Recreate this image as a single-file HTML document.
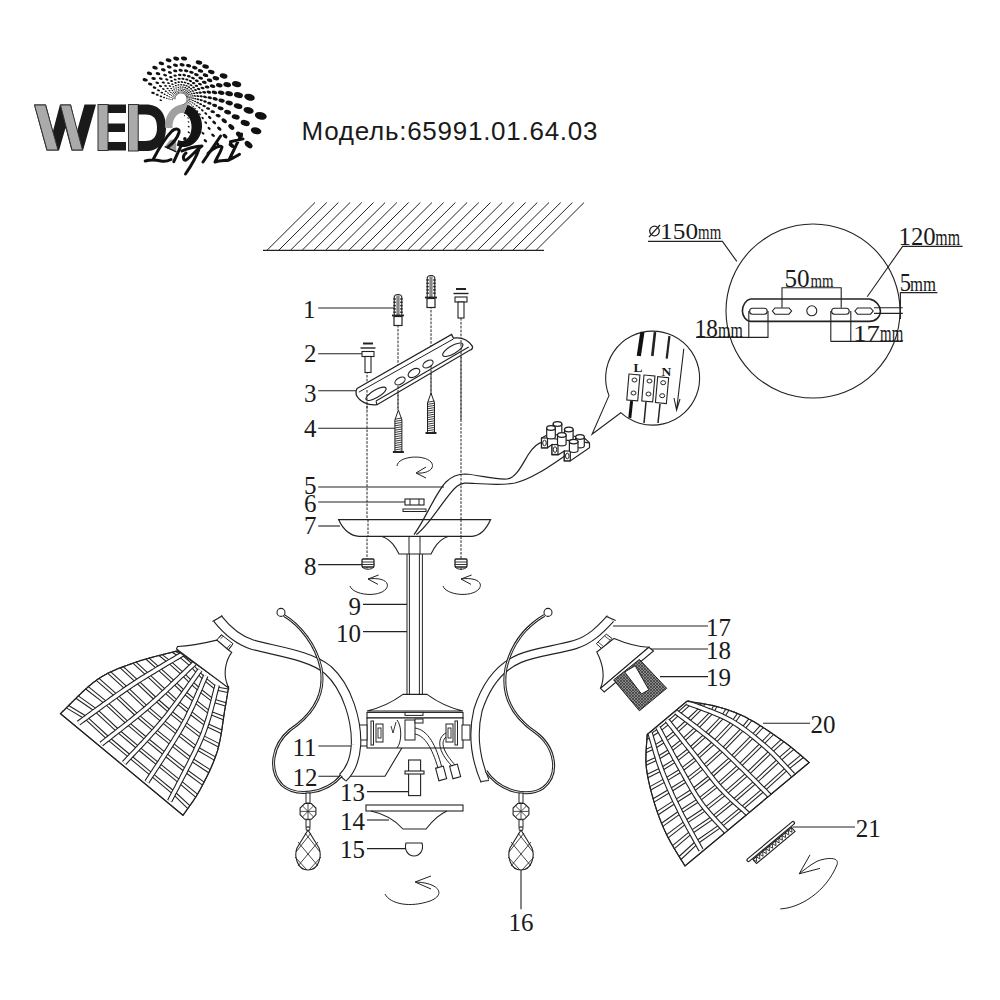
<!DOCTYPE html>
<html><head><meta charset="utf-8"><style>
html,body{margin:0;padding:0;background:#fff;width:1000px;height:1000px;overflow:hidden}
svg{display:block}
</style></head><body>
<svg width="1000" height="1000" viewBox="0 0 1000 1000">
<rect width="1000" height="1000" fill="#fff"/>
<ellipse cx="160.8" cy="100.2" rx="1.30" ry="0.80" transform="rotate(14 160.8 100.2)" fill="#111"/>
<ellipse cx="172.5" cy="99.7" rx="0.59" ry="0.45" transform="rotate(14 172.5 99.7)" fill="#111"/>
<ellipse cx="170.9" cy="99.4" rx="0.69" ry="0.45" transform="rotate(14 170.9 99.4)" fill="#111"/>
<ellipse cx="169.0" cy="99.0" rx="0.81" ry="0.50" transform="rotate(14 169.0 99.0)" fill="#111"/>
<ellipse cx="166.7" cy="98.3" rx="0.95" ry="0.59" transform="rotate(14 166.7 98.3)" fill="#111"/>
<ellipse cx="164.0" cy="97.5" rx="1.12" ry="0.69" transform="rotate(14 164.0 97.5)" fill="#111"/>
<ellipse cx="160.9" cy="96.4" rx="1.32" ry="0.82" transform="rotate(14 160.9 96.4)" fill="#111"/>
<ellipse cx="157.2" cy="94.8" rx="1.57" ry="0.97" transform="rotate(14 157.2 94.8)" fill="#111"/>
<ellipse cx="153.0" cy="92.9" rx="1.86" ry="1.15" transform="rotate(14 153.0 92.9)" fill="#111"/>
<ellipse cx="175.0" cy="98.8" rx="0.50" ry="0.45" transform="rotate(14 175.0 98.8)" fill="#111"/>
<ellipse cx="173.9" cy="98.5" rx="0.51" ry="0.45" transform="rotate(14 173.9 98.5)" fill="#111"/>
<ellipse cx="172.6" cy="98.1" rx="0.60" ry="0.45" transform="rotate(14 172.6 98.1)" fill="#111"/>
<ellipse cx="171.0" cy="97.5" rx="0.70" ry="0.45" transform="rotate(14 171.0 97.5)" fill="#111"/>
<ellipse cx="169.2" cy="96.7" rx="0.82" ry="0.51" transform="rotate(14 169.2 96.7)" fill="#111"/>
<ellipse cx="167.1" cy="95.6" rx="0.97" ry="0.60" transform="rotate(14 167.1 95.6)" fill="#111"/>
<ellipse cx="164.6" cy="94.3" rx="1.14" ry="0.71" transform="rotate(14 164.6 94.3)" fill="#111"/>
<ellipse cx="161.8" cy="92.6" rx="1.35" ry="0.84" transform="rotate(14 161.8 92.6)" fill="#111"/>
<ellipse cx="158.5" cy="90.4" rx="1.60" ry="0.99" transform="rotate(14 158.5 90.4)" fill="#111"/>
<ellipse cx="154.6" cy="87.6" rx="1.90" ry="1.18" transform="rotate(14 154.6 87.6)" fill="#111"/>
<ellipse cx="150.2" cy="84.1" rx="2.26" ry="1.40" transform="rotate(14 150.2 84.1)" fill="#111"/>
<ellipse cx="145.2" cy="79.8" rx="2.69" ry="1.67" transform="rotate(14 145.2 79.8)" fill="#111"/>
<ellipse cx="175.1" cy="97.7" rx="0.50" ry="0.45" transform="rotate(14 175.1 97.7)" fill="#111"/>
<ellipse cx="174.1" cy="97.2" rx="0.52" ry="0.45" transform="rotate(14 174.1 97.2)" fill="#111"/>
<ellipse cx="172.9" cy="96.5" rx="0.61" ry="0.45" transform="rotate(14 172.9 96.5)" fill="#111"/>
<ellipse cx="171.5" cy="95.6" rx="0.72" ry="0.45" transform="rotate(14 171.5 95.6)" fill="#111"/>
<ellipse cx="169.9" cy="94.5" rx="0.84" ry="0.52" transform="rotate(14 169.9 94.5)" fill="#111"/>
<ellipse cx="168.0" cy="93.0" rx="0.99" ry="0.61" transform="rotate(14 168.0 93.0)" fill="#111"/>
<ellipse cx="165.8" cy="91.3" rx="1.17" ry="0.73" transform="rotate(14 165.8 91.3)" fill="#111"/>
<ellipse cx="163.4" cy="89.0" rx="1.38" ry="0.86" transform="rotate(14 163.4 89.0)" fill="#111"/>
<ellipse cx="160.5" cy="86.2" rx="1.64" ry="1.02" transform="rotate(14 160.5 86.2)" fill="#111"/>
<ellipse cx="157.3" cy="82.8" rx="1.94" ry="1.20" transform="rotate(14 157.3 82.8)" fill="#111"/>
<ellipse cx="153.6" cy="78.5" rx="2.31" ry="1.43" transform="rotate(14 153.6 78.5)" fill="#111"/>
<ellipse cx="149.5" cy="73.3" rx="2.74" ry="1.70" transform="rotate(14 149.5 73.3)" fill="#111"/>
<ellipse cx="175.5" cy="96.6" rx="0.50" ry="0.45" transform="rotate(14 175.5 96.6)" fill="#111"/>
<ellipse cx="174.6" cy="95.9" rx="0.54" ry="0.45" transform="rotate(14 174.6 95.9)" fill="#111"/>
<ellipse cx="173.5" cy="95.0" rx="0.62" ry="0.45" transform="rotate(14 173.5 95.0)" fill="#111"/>
<ellipse cx="172.3" cy="93.8" rx="0.73" ry="0.45" transform="rotate(14 172.3 93.8)" fill="#111"/>
<ellipse cx="170.9" cy="92.4" rx="0.86" ry="0.53" transform="rotate(14 170.9 92.4)" fill="#111"/>
<ellipse cx="169.4" cy="90.7" rx="1.01" ry="0.63" transform="rotate(14 169.4 90.7)" fill="#111"/>
<ellipse cx="167.6" cy="88.5" rx="1.19" ry="0.74" transform="rotate(14 167.6 88.5)" fill="#111"/>
<ellipse cx="165.6" cy="85.8" rx="1.41" ry="0.88" transform="rotate(14 165.6 85.8)" fill="#111"/>
<ellipse cx="163.3" cy="82.6" rx="1.67" ry="1.04" transform="rotate(14 163.3 82.6)" fill="#111"/>
<ellipse cx="160.8" cy="78.6" rx="1.98" ry="1.23" transform="rotate(14 160.8 78.6)" fill="#111"/>
<ellipse cx="158.0" cy="73.7" rx="2.36" ry="1.46" transform="rotate(14 158.0 73.7)" fill="#111"/>
<ellipse cx="155.0" cy="67.7" rx="2.80" ry="1.74" transform="rotate(14 155.0 67.7)" fill="#111"/>
<ellipse cx="176.1" cy="95.6" rx="0.50" ry="0.45" transform="rotate(14 176.1 95.6)" fill="#111"/>
<ellipse cx="175.3" cy="94.7" rx="0.55" ry="0.45" transform="rotate(14 175.3 94.7)" fill="#111"/>
<ellipse cx="174.4" cy="93.6" rx="0.64" ry="0.45" transform="rotate(14 174.4 93.6)" fill="#111"/>
<ellipse cx="173.5" cy="92.3" rx="0.75" ry="0.46" transform="rotate(14 173.5 92.3)" fill="#111"/>
<ellipse cx="172.4" cy="90.6" rx="0.88" ry="0.54" transform="rotate(14 172.4 90.6)" fill="#111"/>
<ellipse cx="171.2" cy="88.6" rx="1.03" ry="0.64" transform="rotate(14 171.2 88.6)" fill="#111"/>
<ellipse cx="169.8" cy="86.1" rx="1.22" ry="0.76" transform="rotate(14 169.8 86.1)" fill="#111"/>
<ellipse cx="168.4" cy="83.1" rx="1.44" ry="0.89" transform="rotate(14 168.4 83.1)" fill="#111"/>
<ellipse cx="166.8" cy="79.5" rx="1.71" ry="1.06" transform="rotate(14 166.8 79.5)" fill="#111"/>
<ellipse cx="165.1" cy="75.1" rx="2.02" ry="1.25" transform="rotate(14 165.1 75.1)" fill="#111"/>
<ellipse cx="163.3" cy="69.8" rx="2.40" ry="1.49" transform="rotate(14 163.3 69.8)" fill="#111"/>
<ellipse cx="161.4" cy="63.4" rx="2.86" ry="1.77" transform="rotate(14 161.4 63.4)" fill="#111"/>
<ellipse cx="176.8" cy="94.7" rx="0.50" ry="0.45" transform="rotate(14 176.8 94.7)" fill="#111"/>
<ellipse cx="176.2" cy="93.7" rx="0.56" ry="0.45" transform="rotate(14 176.2 93.7)" fill="#111"/>
<ellipse cx="175.6" cy="92.5" rx="0.65" ry="0.45" transform="rotate(14 175.6 92.5)" fill="#111"/>
<ellipse cx="174.9" cy="91.0" rx="0.76" ry="0.47" transform="rotate(14 174.9 91.0)" fill="#111"/>
<ellipse cx="174.1" cy="89.1" rx="0.90" ry="0.56" transform="rotate(14 174.1 89.1)" fill="#111"/>
<ellipse cx="173.3" cy="86.9" rx="1.05" ry="0.65" transform="rotate(14 173.3 86.9)" fill="#111"/>
<ellipse cx="172.5" cy="84.2" rx="1.24" ry="0.77" transform="rotate(14 172.5 84.2)" fill="#111"/>
<ellipse cx="171.6" cy="81.0" rx="1.47" ry="0.91" transform="rotate(14 171.6 81.0)" fill="#111"/>
<ellipse cx="170.8" cy="77.1" rx="1.75" ry="1.09" transform="rotate(14 170.8 77.1)" fill="#111"/>
<ellipse cx="169.9" cy="72.5" rx="2.08" ry="1.29" transform="rotate(14 169.9 72.5)" fill="#111"/>
<ellipse cx="169.2" cy="66.9" rx="2.48" ry="1.54" transform="rotate(14 169.2 66.9)" fill="#111"/>
<ellipse cx="168.6" cy="60.3" rx="2.95" ry="1.83" transform="rotate(14 168.6 60.3)" fill="#111"/>
<ellipse cx="177.7" cy="94.0" rx="0.50" ry="0.45" transform="rotate(14 177.7 94.0)" fill="#111"/>
<ellipse cx="177.3" cy="92.9" rx="0.57" ry="0.45" transform="rotate(14 177.3 92.9)" fill="#111"/>
<ellipse cx="176.9" cy="91.5" rx="0.67" ry="0.45" transform="rotate(14 176.9 91.5)" fill="#111"/>
<ellipse cx="176.5" cy="89.9" rx="0.78" ry="0.48" transform="rotate(14 176.5 89.9)" fill="#111"/>
<ellipse cx="176.1" cy="88.0" rx="0.92" ry="0.57" transform="rotate(14 176.1 88.0)" fill="#111"/>
<ellipse cx="175.8" cy="85.7" rx="1.09" ry="0.67" transform="rotate(14 175.8 85.7)" fill="#111"/>
<ellipse cx="175.5" cy="82.9" rx="1.28" ry="0.80" transform="rotate(14 175.5 82.9)" fill="#111"/>
<ellipse cx="175.2" cy="79.6" rx="1.52" ry="0.94" transform="rotate(14 175.2 79.6)" fill="#111"/>
<ellipse cx="175.1" cy="75.6" rx="1.81" ry="1.12" transform="rotate(14 175.1 75.6)" fill="#111"/>
<ellipse cx="175.2" cy="70.9" rx="2.15" ry="1.33" transform="rotate(14 175.2 70.9)" fill="#111"/>
<ellipse cx="175.5" cy="65.3" rx="2.56" ry="1.58" transform="rotate(14 175.5 65.3)" fill="#111"/>
<ellipse cx="176.2" cy="58.6" rx="3.04" ry="1.89" transform="rotate(14 176.2 58.6)" fill="#111"/>
<ellipse cx="178.7" cy="93.5" rx="0.50" ry="0.45" transform="rotate(14 178.7 93.5)" fill="#111"/>
<ellipse cx="178.5" cy="92.3" rx="0.59" ry="0.45" transform="rotate(14 178.5 92.3)" fill="#111"/>
<ellipse cx="178.4" cy="90.9" rx="0.69" ry="0.45" transform="rotate(14 178.4 90.9)" fill="#111"/>
<ellipse cx="178.3" cy="89.2" rx="0.81" ry="0.50" transform="rotate(14 178.3 89.2)" fill="#111"/>
<ellipse cx="178.3" cy="87.3" rx="0.95" ry="0.59" transform="rotate(14 178.3 87.3)" fill="#111"/>
<ellipse cx="178.4" cy="84.9" rx="1.12" ry="0.69" transform="rotate(14 178.4 84.9)" fill="#111"/>
<ellipse cx="178.6" cy="82.1" rx="1.32" ry="0.82" transform="rotate(14 178.6 82.1)" fill="#111"/>
<ellipse cx="179.1" cy="78.8" rx="1.57" ry="0.97" transform="rotate(14 179.1 78.8)" fill="#111"/>
<ellipse cx="179.7" cy="74.9" rx="1.86" ry="1.15" transform="rotate(14 179.7 74.9)" fill="#111"/>
<ellipse cx="180.7" cy="70.3" rx="2.21" ry="1.37" transform="rotate(14 180.7 70.3)" fill="#111"/>
<ellipse cx="182.1" cy="64.8" rx="2.63" ry="1.63" transform="rotate(14 182.1 64.8)" fill="#111"/>
<ellipse cx="184.0" cy="58.5" rx="3.14" ry="1.94" transform="rotate(14 184.0 58.5)" fill="#111"/>
<ellipse cx="179.8" cy="93.1" rx="0.52" ry="0.45" transform="rotate(14 179.8 93.1)" fill="#111"/>
<ellipse cx="179.9" cy="92.0" rx="0.61" ry="0.45" transform="rotate(14 179.9 92.0)" fill="#111"/>
<ellipse cx="180.0" cy="90.6" rx="0.71" ry="0.45" transform="rotate(14 180.0 90.6)" fill="#111"/>
<ellipse cx="180.3" cy="88.9" rx="0.83" ry="0.52" transform="rotate(14 180.3 88.9)" fill="#111"/>
<ellipse cx="180.6" cy="87.0" rx="0.98" ry="0.61" transform="rotate(14 180.6 87.0)" fill="#111"/>
<ellipse cx="181.2" cy="84.7" rx="1.15" ry="0.72" transform="rotate(14 181.2 84.7)" fill="#111"/>
<ellipse cx="181.9" cy="82.0" rx="1.36" ry="0.85" transform="rotate(14 181.9 82.0)" fill="#111"/>
<ellipse cx="182.9" cy="78.8" rx="1.62" ry="1.00" transform="rotate(14 182.9 78.8)" fill="#111"/>
<ellipse cx="184.3" cy="75.1" rx="1.92" ry="1.19" transform="rotate(14 184.3 75.1)" fill="#111"/>
<ellipse cx="186.2" cy="70.8" rx="2.28" ry="1.41" transform="rotate(14 186.2 70.8)" fill="#111"/>
<ellipse cx="188.6" cy="65.7" rx="2.71" ry="1.68" transform="rotate(14 188.6 65.7)" fill="#111"/>
<ellipse cx="180.9" cy="93.0" rx="0.54" ry="0.45" transform="rotate(14 180.9 93.0)" fill="#111"/>
<ellipse cx="181.2" cy="91.9" rx="0.62" ry="0.45" transform="rotate(14 181.2 91.9)" fill="#111"/>
<ellipse cx="181.6" cy="90.5" rx="0.73" ry="0.45" transform="rotate(14 181.6 90.5)" fill="#111"/>
<ellipse cx="182.2" cy="89.0" rx="0.86" ry="0.53" transform="rotate(14 182.2 89.0)" fill="#111"/>
<ellipse cx="182.9" cy="87.1" rx="1.01" ry="0.62" transform="rotate(14 182.9 87.1)" fill="#111"/>
<ellipse cx="183.9" cy="85.0" rx="1.19" ry="0.74" transform="rotate(14 183.9 85.0)" fill="#111"/>
<ellipse cx="185.1" cy="82.5" rx="1.40" ry="0.87" transform="rotate(14 185.1 82.5)" fill="#111"/>
<ellipse cx="186.8" cy="79.6" rx="1.66" ry="1.03" transform="rotate(14 186.8 79.6)" fill="#111"/>
<ellipse cx="188.8" cy="76.2" rx="1.97" ry="1.22" transform="rotate(14 188.8 76.2)" fill="#111"/>
<ellipse cx="191.5" cy="72.3" rx="2.35" ry="1.45" transform="rotate(14 191.5 72.3)" fill="#111"/>
<ellipse cx="194.8" cy="67.7" rx="2.79" ry="1.73" transform="rotate(14 194.8 67.7)" fill="#111"/>
<ellipse cx="199.0" cy="62.5" rx="3.32" ry="2.06" transform="rotate(14 199.0 62.5)" fill="#111"/>
<ellipse cx="182.1" cy="93.1" rx="0.55" ry="0.45" transform="rotate(14 182.1 93.1)" fill="#111"/>
<ellipse cx="182.6" cy="92.0" rx="0.64" ry="0.45" transform="rotate(14 182.6 92.0)" fill="#111"/>
<ellipse cx="183.2" cy="90.8" rx="0.75" ry="0.47" transform="rotate(14 183.2 90.8)" fill="#111"/>
<ellipse cx="184.1" cy="89.4" rx="0.88" ry="0.55" transform="rotate(14 184.1 89.4)" fill="#111"/>
<ellipse cx="185.2" cy="87.7" rx="1.04" ry="0.64" transform="rotate(14 185.2 87.7)" fill="#111"/>
<ellipse cx="186.5" cy="85.8" rx="1.22" ry="0.76" transform="rotate(14 186.5 85.8)" fill="#111"/>
<ellipse cx="188.2" cy="83.6" rx="1.44" ry="0.90" transform="rotate(14 188.2 83.6)" fill="#111"/>
<ellipse cx="190.4" cy="81.0" rx="1.71" ry="1.06" transform="rotate(14 190.4 81.0)" fill="#111"/>
<ellipse cx="193.0" cy="78.1" rx="2.03" ry="1.26" transform="rotate(14 193.0 78.1)" fill="#111"/>
<ellipse cx="196.4" cy="74.7" rx="2.40" ry="1.49" transform="rotate(14 196.4 74.7)" fill="#111"/>
<ellipse cx="200.5" cy="70.9" rx="2.83" ry="1.76" transform="rotate(14 200.5 70.9)" fill="#111"/>
<ellipse cx="205.6" cy="66.6" rx="3.35" ry="2.08" transform="rotate(14 205.6 66.6)" fill="#111"/>
<ellipse cx="183.2" cy="93.4" rx="0.57" ry="0.45" transform="rotate(14 183.2 93.4)" fill="#111"/>
<ellipse cx="183.9" cy="92.5" rx="0.66" ry="0.45" transform="rotate(14 183.9 92.5)" fill="#111"/>
<ellipse cx="184.8" cy="91.4" rx="0.77" ry="0.48" transform="rotate(14 184.8 91.4)" fill="#111"/>
<ellipse cx="185.9" cy="90.1" rx="0.91" ry="0.56" transform="rotate(14 185.9 90.1)" fill="#111"/>
<ellipse cx="187.2" cy="88.7" rx="1.06" ry="0.66" transform="rotate(14 187.2 88.7)" fill="#111"/>
<ellipse cx="188.9" cy="87.1" rx="1.25" ry="0.77" transform="rotate(14 188.9 87.1)" fill="#111"/>
<ellipse cx="191.0" cy="85.2" rx="1.46" ry="0.91" transform="rotate(14 191.0 85.2)" fill="#111"/>
<ellipse cx="193.6" cy="83.1" rx="1.72" ry="1.07" transform="rotate(14 193.6 83.1)" fill="#111"/>
<ellipse cx="196.8" cy="80.8" rx="2.03" ry="1.26" transform="rotate(14 196.8 80.8)" fill="#111"/>
<ellipse cx="200.7" cy="78.1" rx="2.40" ry="1.49" transform="rotate(14 200.7 78.1)" fill="#111"/>
<ellipse cx="205.5" cy="75.2" rx="2.83" ry="1.76" transform="rotate(14 205.5 75.2)" fill="#111"/>
<ellipse cx="211.3" cy="71.9" rx="3.35" ry="2.08" transform="rotate(14 211.3 71.9)" fill="#111"/>
<ellipse cx="184.2" cy="93.9" rx="0.58" ry="0.45" transform="rotate(14 184.2 93.9)" fill="#111"/>
<ellipse cx="185.1" cy="93.1" rx="0.67" ry="0.45" transform="rotate(14 185.1 93.1)" fill="#111"/>
<ellipse cx="186.2" cy="92.2" rx="0.78" ry="0.48" transform="rotate(14 186.2 92.2)" fill="#111"/>
<ellipse cx="187.5" cy="91.2" rx="0.91" ry="0.56" transform="rotate(14 187.5 91.2)" fill="#111"/>
<ellipse cx="189.1" cy="90.1" rx="1.06" ry="0.66" transform="rotate(14 189.1 90.1)" fill="#111"/>
<ellipse cx="191.1" cy="88.8" rx="1.25" ry="0.77" transform="rotate(14 191.1 88.8)" fill="#111"/>
<ellipse cx="193.5" cy="87.4" rx="1.46" ry="0.91" transform="rotate(14 193.5 87.4)" fill="#111"/>
<ellipse cx="196.4" cy="85.8" rx="1.72" ry="1.07" transform="rotate(14 196.4 85.8)" fill="#111"/>
<ellipse cx="200.0" cy="84.1" rx="2.03" ry="1.26" transform="rotate(14 200.0 84.1)" fill="#111"/>
<ellipse cx="204.3" cy="82.3" rx="2.40" ry="1.49" transform="rotate(14 204.3 82.3)" fill="#111"/>
<ellipse cx="209.6" cy="80.3" rx="2.83" ry="1.76" transform="rotate(14 209.6 80.3)" fill="#111"/>
<ellipse cx="215.9" cy="78.2" rx="3.35" ry="2.08" transform="rotate(14 215.9 78.2)" fill="#111"/>
<ellipse cx="223.6" cy="76.0" rx="3.97" ry="2.46" transform="rotate(14 223.6 76.0)" fill="#111"/>
<ellipse cx="185.1" cy="94.6" rx="0.58" ry="0.45" transform="rotate(14 185.1 94.6)" fill="#111"/>
<ellipse cx="186.1" cy="94.0" rx="0.67" ry="0.45" transform="rotate(14 186.1 94.0)" fill="#111"/>
<ellipse cx="187.3" cy="93.3" rx="0.78" ry="0.48" transform="rotate(14 187.3 93.3)" fill="#111"/>
<ellipse cx="188.8" cy="92.6" rx="0.91" ry="0.56" transform="rotate(14 188.8 92.6)" fill="#111"/>
<ellipse cx="190.6" cy="91.8" rx="1.06" ry="0.66" transform="rotate(14 190.6 91.8)" fill="#111"/>
<ellipse cx="192.8" cy="90.9" rx="1.25" ry="0.77" transform="rotate(14 192.8 90.9)" fill="#111"/>
<ellipse cx="195.5" cy="90.0" rx="1.46" ry="0.91" transform="rotate(14 195.5 90.0)" fill="#111"/>
<ellipse cx="198.6" cy="89.0" rx="1.72" ry="1.07" transform="rotate(14 198.6 89.0)" fill="#111"/>
<ellipse cx="202.5" cy="88.0" rx="2.03" ry="1.26" transform="rotate(14 202.5 88.0)" fill="#111"/>
<ellipse cx="207.1" cy="87.0" rx="2.40" ry="1.49" transform="rotate(14 207.1 87.0)" fill="#111"/>
<ellipse cx="212.6" cy="86.1" rx="2.83" ry="1.76" transform="rotate(14 212.6 86.1)" fill="#111"/>
<ellipse cx="219.3" cy="85.2" rx="3.35" ry="2.08" transform="rotate(14 219.3 85.2)" fill="#111"/>
<ellipse cx="227.2" cy="84.6" rx="3.97" ry="2.46" transform="rotate(14 227.2 84.6)" fill="#111"/>
<ellipse cx="236.6" cy="84.2" rx="4.71" ry="2.92" transform="rotate(14 236.6 84.2)" fill="#111"/>
<ellipse cx="185.9" cy="95.5" rx="0.58" ry="0.45" transform="rotate(14 185.9 95.5)" fill="#111"/>
<ellipse cx="187.0" cy="95.1" rx="0.67" ry="0.45" transform="rotate(14 187.0 95.1)" fill="#111"/>
<ellipse cx="188.3" cy="94.7" rx="0.78" ry="0.48" transform="rotate(14 188.3 94.7)" fill="#111"/>
<ellipse cx="189.9" cy="94.2" rx="0.91" ry="0.56" transform="rotate(14 189.9 94.2)" fill="#111"/>
<ellipse cx="191.8" cy="93.8" rx="1.06" ry="0.66" transform="rotate(14 191.8 93.8)" fill="#111"/>
<ellipse cx="194.1" cy="93.3" rx="1.25" ry="0.77" transform="rotate(14 194.1 93.3)" fill="#111"/>
<ellipse cx="196.9" cy="92.9" rx="1.46" ry="0.91" transform="rotate(14 196.9 92.9)" fill="#111"/>
<ellipse cx="200.2" cy="92.6" rx="1.72" ry="1.07" transform="rotate(14 200.2 92.6)" fill="#111"/>
<ellipse cx="204.2" cy="92.3" rx="2.03" ry="1.26" transform="rotate(14 204.2 92.3)" fill="#111"/>
<ellipse cx="208.9" cy="92.2" rx="2.40" ry="1.49" transform="rotate(14 208.9 92.2)" fill="#111"/>
<ellipse cx="214.5" cy="92.4" rx="2.83" ry="1.76" transform="rotate(14 214.5 92.4)" fill="#111"/>
<ellipse cx="221.2" cy="92.8" rx="3.34" ry="2.07" transform="rotate(14 221.2 92.8)" fill="#111"/>
<ellipse cx="229.1" cy="93.7" rx="3.91" ry="2.43" transform="rotate(14 229.1 93.7)" fill="#111"/>
<ellipse cx="238.4" cy="95.1" rx="4.59" ry="2.85" transform="rotate(14 238.4 95.1)" fill="#111"/>
<ellipse cx="249.5" cy="97.2" rx="5.39" ry="3.34" transform="rotate(14 249.5 97.2)" fill="#111"/>
<ellipse cx="186.5" cy="96.5" rx="0.58" ry="0.45" transform="rotate(14 186.5 96.5)" fill="#111"/>
<ellipse cx="187.6" cy="96.3" rx="0.67" ry="0.45" transform="rotate(14 187.6 96.3)" fill="#111"/>
<ellipse cx="189.0" cy="96.1" rx="0.78" ry="0.48" transform="rotate(14 189.0 96.1)" fill="#111"/>
<ellipse cx="190.7" cy="96.0" rx="0.91" ry="0.56" transform="rotate(14 190.7 96.0)" fill="#111"/>
<ellipse cx="192.6" cy="95.9" rx="1.06" ry="0.66" transform="rotate(14 192.6 95.9)" fill="#111"/>
<ellipse cx="195.0" cy="95.9" rx="1.25" ry="0.77" transform="rotate(14 195.0 95.9)" fill="#111"/>
<ellipse cx="197.8" cy="96.1" rx="1.46" ry="0.91" transform="rotate(14 197.8 96.1)" fill="#111"/>
<ellipse cx="201.1" cy="96.3" rx="1.70" ry="1.06" transform="rotate(14 201.1 96.3)" fill="#111"/>
<ellipse cx="205.0" cy="96.9" rx="1.99" ry="1.23" transform="rotate(14 205.0 96.9)" fill="#111"/>
<ellipse cx="209.7" cy="97.7" rx="2.33" ry="1.44" transform="rotate(14 209.7 97.7)" fill="#111"/>
<ellipse cx="215.2" cy="98.9" rx="2.72" ry="1.69" transform="rotate(14 215.2 98.9)" fill="#111"/>
<ellipse cx="221.6" cy="100.6" rx="3.19" ry="1.98" transform="rotate(14 221.6 100.6)" fill="#111"/>
<ellipse cx="229.2" cy="102.9" rx="3.74" ry="2.32" transform="rotate(14 229.2 102.9)" fill="#111"/>
<ellipse cx="238.1" cy="106.1" rx="4.38" ry="2.72" transform="rotate(14 238.1 106.1)" fill="#111"/>
<ellipse cx="248.6" cy="110.4" rx="5.15" ry="3.19" transform="rotate(14 248.6 110.4)" fill="#111"/>
<ellipse cx="260.8" cy="115.9" rx="6.04" ry="3.75" transform="rotate(14 260.8 115.9)" fill="#111"/>
<ellipse cx="186.8" cy="97.6" rx="0.58" ry="0.45" transform="rotate(14 186.8 97.6)" fill="#111"/>
<ellipse cx="188.0" cy="97.6" rx="0.67" ry="0.45" transform="rotate(14 188.0 97.6)" fill="#111"/>
<ellipse cx="189.4" cy="97.7" rx="0.78" ry="0.48" transform="rotate(14 189.4 97.7)" fill="#111"/>
<ellipse cx="191.1" cy="97.9" rx="0.90" ry="0.56" transform="rotate(14 191.1 97.9)" fill="#111"/>
<ellipse cx="193.0" cy="98.2" rx="1.04" ry="0.64" transform="rotate(14 193.0 98.2)" fill="#111"/>
<ellipse cx="195.3" cy="98.7" rx="1.20" ry="0.75" transform="rotate(14 195.3 98.7)" fill="#111"/>
<ellipse cx="198.0" cy="99.3" rx="1.40" ry="0.87" transform="rotate(14 198.0 99.3)" fill="#111"/>
<ellipse cx="201.2" cy="100.2" rx="1.63" ry="1.01" transform="rotate(14 201.2 100.2)" fill="#111"/>
<ellipse cx="205.0" cy="101.5" rx="1.90" ry="1.18" transform="rotate(14 205.0 101.5)" fill="#111"/>
<ellipse cx="209.4" cy="103.2" rx="2.22" ry="1.38" transform="rotate(14 209.4 103.2)" fill="#111"/>
<ellipse cx="214.6" cy="105.4" rx="2.60" ry="1.61" transform="rotate(14 214.6 105.4)" fill="#111"/>
<ellipse cx="220.6" cy="108.3" rx="3.04" ry="1.89" transform="rotate(14 220.6 108.3)" fill="#111"/>
<ellipse cx="227.6" cy="112.1" rx="3.54" ry="2.20" transform="rotate(14 227.6 112.1)" fill="#111"/>
<ellipse cx="235.7" cy="116.9" rx="4.07" ry="2.52" transform="rotate(14 235.7 116.9)" fill="#111"/>
<ellipse cx="245.2" cy="123.0" rx="4.67" ry="2.89" transform="rotate(14 245.2 123.0)" fill="#111"/>
<ellipse cx="256.1" cy="130.8" rx="5.35" ry="3.32" transform="rotate(14 256.1 130.8)" fill="#111"/>
<ellipse cx="187.0" cy="98.7" rx="0.56" ry="0.45" transform="rotate(14 187.0 98.7)" fill="#111"/>
<ellipse cx="188.1" cy="99.0" rx="0.64" ry="0.45" transform="rotate(14 188.1 99.0)" fill="#111"/>
<ellipse cx="189.5" cy="99.3" rx="0.74" ry="0.46" transform="rotate(14 189.5 99.3)" fill="#111"/>
<ellipse cx="191.1" cy="99.8" rx="0.86" ry="0.53" transform="rotate(14 191.1 99.8)" fill="#111"/>
<ellipse cx="192.9" cy="100.5" rx="0.99" ry="0.61" transform="rotate(14 192.9 100.5)" fill="#111"/>
<ellipse cx="195.1" cy="101.4" rx="1.15" ry="0.71" transform="rotate(14 195.1 101.4)" fill="#111"/>
<ellipse cx="197.7" cy="102.6" rx="1.33" ry="0.83" transform="rotate(14 197.7 102.6)" fill="#111"/>
<ellipse cx="200.6" cy="104.1" rx="1.55" ry="0.96" transform="rotate(14 200.6 104.1)" fill="#111"/>
<ellipse cx="204.1" cy="106.0" rx="1.78" ry="1.10" transform="rotate(14 204.1 106.0)" fill="#111"/>
<ellipse cx="208.1" cy="108.5" rx="2.04" ry="1.26" transform="rotate(14 208.1 108.5)" fill="#111"/>
<ellipse cx="212.7" cy="111.7" rx="2.33" ry="1.44" transform="rotate(14 212.7 111.7)" fill="#111"/>
<ellipse cx="218.1" cy="115.7" rx="2.66" ry="1.65" transform="rotate(14 218.1 115.7)" fill="#111"/>
<ellipse cx="224.2" cy="120.7" rx="3.04" ry="1.88" transform="rotate(40 224.2 120.7)" fill="#111"/>
<ellipse cx="231.3" cy="127.0" rx="3.47" ry="2.15" transform="rotate(40 231.3 127.0)" fill="#111"/>
<ellipse cx="239.4" cy="134.8" rx="3.95" ry="2.45" transform="rotate(40 239.4 134.8)" fill="#111"/>
<ellipse cx="248.6" cy="144.6" rx="4.50" ry="2.79" transform="rotate(40 248.6 144.6)" fill="#111"/>
<ellipse cx="186.9" cy="99.9" rx="0.54" ry="0.45" transform="rotate(14 186.9 99.9)" fill="#111"/>
<ellipse cx="188.0" cy="100.3" rx="0.62" ry="0.45" transform="rotate(14 188.0 100.3)" fill="#111"/>
<ellipse cx="189.3" cy="101.0" rx="0.71" ry="0.45" transform="rotate(14 189.3 101.0)" fill="#111"/>
<ellipse cx="190.7" cy="101.7" rx="0.81" ry="0.50" transform="rotate(14 190.7 101.7)" fill="#111"/>
<ellipse cx="192.4" cy="102.8" rx="0.92" ry="0.57" transform="rotate(14 192.4 102.8)" fill="#111"/>
<ellipse cx="194.4" cy="104.0" rx="1.04" ry="0.64" transform="rotate(14 194.4 104.0)" fill="#111"/>
<ellipse cx="196.7" cy="105.7" rx="1.18" ry="0.73" transform="rotate(14 196.7 105.7)" fill="#111"/>
<ellipse cx="199.3" cy="107.7" rx="1.34" ry="0.83" transform="rotate(40 199.3 107.7)" fill="#111"/>
<ellipse cx="202.3" cy="110.3" rx="1.52" ry="0.95" transform="rotate(40 202.3 110.3)" fill="#111"/>
<ellipse cx="205.8" cy="113.5" rx="1.73" ry="1.07" transform="rotate(40 205.8 113.5)" fill="#111"/>
<ellipse cx="209.7" cy="117.5" rx="1.97" ry="1.22" transform="rotate(40 209.7 117.5)" fill="#111"/>
<ellipse cx="214.2" cy="122.5" rx="2.23" ry="1.38" transform="rotate(40 214.2 122.5)" fill="#111"/>
<ellipse cx="219.3" cy="128.6" rx="2.53" ry="1.57" transform="rotate(40 219.3 128.6)" fill="#111"/>
<ellipse cx="225.0" cy="136.1" rx="2.86" ry="1.77" transform="rotate(40 225.0 136.1)" fill="#111"/>
<ellipse cx="231.5" cy="145.3" rx="3.23" ry="2.00" transform="rotate(40 231.5 145.3)" fill="#111"/>
<ellipse cx="186.7" cy="101.0" rx="0.50" ry="0.45" transform="rotate(14 186.7 101.0)" fill="#111"/>
<ellipse cx="187.6" cy="101.7" rx="0.55" ry="0.45" transform="rotate(14 187.6 101.7)" fill="#111"/>
<ellipse cx="188.7" cy="102.5" rx="0.62" ry="0.45" transform="rotate(14 188.7 102.5)" fill="#111"/>
<ellipse cx="190.0" cy="103.6" rx="0.69" ry="0.45" transform="rotate(40 190.0 103.6)" fill="#111"/>
<ellipse cx="191.5" cy="104.9" rx="0.78" ry="0.48" transform="rotate(40 191.5 104.9)" fill="#111"/>
<ellipse cx="193.2" cy="106.5" rx="0.88" ry="0.55" transform="rotate(40 193.2 106.5)" fill="#111"/>
<ellipse cx="195.1" cy="108.5" rx="0.99" ry="0.62" transform="rotate(40 195.1 108.5)" fill="#111"/>
<ellipse cx="197.3" cy="111.1" rx="1.12" ry="0.69" transform="rotate(40 197.3 111.1)" fill="#111"/>
<ellipse cx="199.8" cy="114.2" rx="1.26" ry="0.78" transform="rotate(40 199.8 114.2)" fill="#111"/>
<ellipse cx="202.6" cy="118.0" rx="1.42" ry="0.88" transform="rotate(40 202.6 118.0)" fill="#111"/>
<ellipse cx="205.7" cy="122.6" rx="1.60" ry="0.99" transform="rotate(40 205.7 122.6)" fill="#111"/>
<ellipse cx="209.1" cy="128.4" rx="1.83" ry="1.14" transform="rotate(40 209.1 128.4)" fill="#111"/>
<ellipse cx="213.0" cy="135.3" rx="2.14" ry="1.33" transform="rotate(40 213.0 135.3)" fill="#111"/>
<ellipse cx="217.2" cy="143.8" rx="2.51" ry="1.55" transform="rotate(40 217.2 143.8)" fill="#111"/>
<ellipse cx="186.2" cy="102.0" rx="0.50" ry="0.45" transform="rotate(40 186.2 102.0)" fill="#111"/>
<ellipse cx="187.0" cy="102.9" rx="0.50" ry="0.45" transform="rotate(40 187.0 102.9)" fill="#111"/>
<ellipse cx="187.9" cy="103.9" rx="0.52" ry="0.45" transform="rotate(40 187.9 103.9)" fill="#111"/>
<ellipse cx="189.0" cy="105.2" rx="0.58" ry="0.45" transform="rotate(40 189.0 105.2)" fill="#111"/>
<ellipse cx="190.2" cy="106.8" rx="0.64" ry="0.45" transform="rotate(40 190.2 106.8)" fill="#111"/>
<ellipse cx="191.5" cy="108.7" rx="0.72" ry="0.45" transform="rotate(40 191.5 108.7)" fill="#111"/>
<ellipse cx="193.0" cy="111.1" rx="0.80" ry="0.50" transform="rotate(40 193.0 111.1)" fill="#111"/>
<ellipse cx="194.7" cy="113.9" rx="0.93" ry="0.58" transform="rotate(40 194.7 113.9)" fill="#111"/>
<ellipse cx="196.5" cy="117.5" rx="1.09" ry="0.67" transform="rotate(40 196.5 117.5)" fill="#111"/>
<ellipse cx="198.5" cy="121.7" rx="1.27" ry="0.79" transform="rotate(40 198.5 121.7)" fill="#111"/>
<ellipse cx="200.7" cy="126.9" rx="1.48" ry="0.92" transform="rotate(40 200.7 126.9)" fill="#111"/>
<ellipse cx="203.0" cy="133.2" rx="1.73" ry="1.07" transform="rotate(40 203.0 133.2)" fill="#111"/>
<ellipse cx="205.4" cy="140.8" rx="2.02" ry="1.25" transform="rotate(40 205.4 140.8)" fill="#111"/>
<ellipse cx="185.5" cy="103.0" rx="0.50" ry="0.45" transform="rotate(40 185.5 103.0)" fill="#111"/>
<ellipse cx="186.1" cy="103.9" rx="0.50" ry="0.45" transform="rotate(40 186.1 103.9)" fill="#111"/>
<ellipse cx="186.9" cy="105.1" rx="0.50" ry="0.45" transform="rotate(40 186.9 105.1)" fill="#111"/>
<ellipse cx="187.7" cy="106.6" rx="0.50" ry="0.45" transform="rotate(40 187.7 106.6)" fill="#111"/>
<ellipse cx="188.5" cy="108.4" rx="0.57" ry="0.45" transform="rotate(40 188.5 108.4)" fill="#111"/>
<ellipse cx="189.5" cy="110.5" rx="0.65" ry="0.45" transform="rotate(40 189.5 110.5)" fill="#111"/>
<ellipse cx="190.5" cy="113.1" rx="0.76" ry="0.47" transform="rotate(40 190.5 113.1)" fill="#111"/>
<ellipse cx="191.6" cy="116.3" rx="0.88" ry="0.55" transform="rotate(40 191.6 116.3)" fill="#111"/>
<ellipse cx="192.7" cy="120.1" rx="1.02" ry="0.64" transform="rotate(40 192.7 120.1)" fill="#111"/>
<ellipse cx="193.9" cy="124.7" rx="1.19" ry="0.74" transform="rotate(40 193.9 124.7)" fill="#111"/>
<ellipse cx="195.0" cy="130.2" rx="1.39" ry="0.86" transform="rotate(40 195.0 130.2)" fill="#111"/>
<ellipse cx="196.1" cy="136.8" rx="1.62" ry="1.01" transform="rotate(40 196.1 136.8)" fill="#111"/>
<ellipse cx="184.7" cy="103.8" rx="0.50" ry="0.45" transform="rotate(40 184.7 103.8)" fill="#111"/>
<ellipse cx="185.1" cy="104.8" rx="0.50" ry="0.45" transform="rotate(40 185.1 104.8)" fill="#111"/>
<ellipse cx="185.6" cy="106.2" rx="0.50" ry="0.45" transform="rotate(40 185.6 106.2)" fill="#111"/>
<ellipse cx="186.1" cy="107.7" rx="0.50" ry="0.45" transform="rotate(40 186.1 107.7)" fill="#111"/>
<ellipse cx="186.6" cy="109.6" rx="0.53" ry="0.45" transform="rotate(40 186.6 109.6)" fill="#111"/>
<ellipse cx="187.1" cy="111.9" rx="0.62" ry="0.45" transform="rotate(40 187.1 111.9)" fill="#111"/>
<ellipse cx="187.6" cy="114.7" rx="0.71" ry="0.45" transform="rotate(40 187.6 114.7)" fill="#111"/>
<ellipse cx="188.1" cy="118.0" rx="0.83" ry="0.51" transform="rotate(40 188.1 118.0)" fill="#111"/>
<ellipse cx="188.5" cy="121.9" rx="0.96" ry="0.60" transform="rotate(40 188.5 121.9)" fill="#111"/>
<ellipse cx="188.7" cy="126.6" rx="1.12" ry="0.69" transform="rotate(40 188.7 126.6)" fill="#111"/>
<ellipse cx="188.8" cy="132.3" rx="1.30" ry="0.81" transform="rotate(40 188.8 132.3)" fill="#111"/>
<ellipse cx="183.7" cy="104.4" rx="0.50" ry="0.45" transform="rotate(40 183.7 104.4)" fill="#111"/>
<ellipse cx="183.9" cy="105.5" rx="0.50" ry="0.45" transform="rotate(40 183.9 105.5)" fill="#111"/>
<ellipse cx="184.1" cy="106.9" rx="0.50" ry="0.45" transform="rotate(40 184.1 106.9)" fill="#111"/>
<ellipse cx="184.3" cy="108.5" rx="0.50" ry="0.45" transform="rotate(40 184.3 108.5)" fill="#111"/>
<ellipse cx="184.5" cy="110.5" rx="0.50" ry="0.45" transform="rotate(40 184.5 110.5)" fill="#111"/>
<ellipse cx="184.6" cy="112.9" rx="0.58" ry="0.45" transform="rotate(40 184.6 112.9)" fill="#111"/>
<ellipse cx="184.5" cy="115.7" rx="0.67" ry="0.45" transform="rotate(40 184.5 115.7)" fill="#111"/>
<ellipse cx="182.6" cy="104.8" rx="0.50" ry="0.45" transform="rotate(40 182.6 104.8)" fill="#111"/>
<ellipse cx="182.6" cy="106.0" rx="0.50" ry="0.45" transform="rotate(40 182.6 106.0)" fill="#111"/>
<ellipse cx="182.6" cy="107.3" rx="0.50" ry="0.45" transform="rotate(40 182.6 107.3)" fill="#111"/>
<polygon points="34,104.5 46,104.5 53,131 60,104.5 71,104.5 77,131 84.5,104.5 96,104.5 83,150.5 71.5,150.5 65.5,128 59,150.5 46.5,150.5" fill="#1a1a1a"/>
<polygon points="34.5,105 45.5,105 58,150 47,150" fill="#aaa" stroke="#333" stroke-width="1"/>
<polygon points="60.5,105 70.5,105 82.5,150 72,150" fill="#aaa" stroke="#333" stroke-width="1"/>
<rect x="98" y="104.5" width="10" height="46" fill="#aaa" stroke="#333" stroke-width="1"/>
<rect x="108" y="104.5" width="18" height="8.5" fill="#1a1a1a"/>
<rect x="108" y="123.5" width="17" height="8.5" fill="#1a1a1a"/>
<rect x="108" y="142" width="18" height="8.5" fill="#1a1a1a"/>
<rect x="128.5" y="104.5" width="9.7" height="46.5" fill="#aaa" stroke="#333" stroke-width="1"/>
<path d="M138,104.5 L146,104.5 C160,104.5 166,114 166,127.7 C166,142 159,151 146,151 L138,151 L138,141 L145,141 C154,141 157,136 157,127.7 C157,119 154,114.5 145,114.5 L138,114.5 Z" fill="#1a1a1a"/>
<path d="M187.3,105.0 L189.3,105.6 L191.2,106.4 L193.0,107.5 L194.7,108.9 L196.3,110.4 L197.7,112.1 L198.9,114.0 L199.9,116.0 L200.8,118.2 L201.4,120.4 L201.8,122.7 L202.0,125.1 L201.9,127.4 L201.7,129.7 L201.2,132.0 L200.5,134.2 L199.6,136.3 L198.5,138.3 L197.2,140.1 L195.7,141.8 L194.1,143.2 L192.4,144.5 L190.5,145.5 L188.6,146.3 L186.6,146.8 L184.6,147.1 L182.5,147.1 L180.5,146.8 L178.5,146.3 L176.6,145.5 L178.4,140.0 L179.4,140.5 L180.5,140.8 L181.5,141.0 L182.6,141.0 L183.6,140.8 L184.6,140.5 L185.6,139.9 L186.6,139.3 L187.4,138.5 L188.3,137.5 L189.0,136.4 L189.7,135.2 L190.3,133.9 L190.7,132.5 L191.1,131.1 L191.3,129.6 L191.5,128.1 L191.5,126.5 L191.4,125.0 L191.2,123.5 L190.9,122.0 L190.4,120.6 L189.9,119.2 L189.3,118.0 L188.6,116.9 L187.8,115.9 L186.9,115.0 L186.0,114.3 L185.0,113.7 L184.0,113.3 Z" fill="#141414"/>
<path d="M165.1,127.7 L165.0,126.3 L165.0,125.0 L165.1,123.7 L165.2,122.4 L165.5,121.1 L165.8,119.8 L166.1,118.5 L166.5,117.3 L167.0,116.1 L167.6,114.9 L168.2,113.8 L168.9,112.7 L169.6,111.7 L170.4,110.8 L171.2,109.8 L172.1,109.0 L173.1,108.2 L174.0,107.5 L175.0,106.9 L176.1,106.3 L177.1,105.8 L178.2,105.4 L179.3,105.0 L180.5,104.8 L181.6,104.6 L182.8,104.5 L183.9,104.5 L185.1,104.6 L186.2,104.7 L187.3,105.0 L184.0,113.3 L183.4,113.2 L182.8,113.1 L182.2,113.0 L181.6,113.0 L181.0,113.1 L180.4,113.2 L179.9,113.4 L179.3,113.6 L178.7,113.9 L178.2,114.2 L177.7,114.6 L177.1,115.0 L176.6,115.4 L176.2,116.0 L175.7,116.5 L175.3,117.1 L174.9,117.7 L174.5,118.4 L174.1,119.1 L173.8,119.9 L173.5,120.6 L173.3,121.4 L173.1,122.2 L172.9,123.0 L172.7,123.9 L172.6,124.7 L172.5,125.6 L172.5,126.5 L172.5,127.4 L172.5,128.2 Z" fill="#a0a0a0"/>
<path d="M164.7,146.7 L170,140 L176,139 L176.4,151.9 Z" fill="#9a9a9a"/>
<path d="M153,159.7 C158,150 165,138 172,131 C176,127.5 180,129 179,132.5 C177,139 172,144 168,147 M145.2,161 C150,159.5 155,159.5 161,161 C165,162 168,161 171,159.5 M181.6,144.7 L173.8,161.6 M182,151 C186,149 196,146 202,146 C196,150 190,158 186,160 C183,161 182,156 186,153 M199,149 C196,158 191,166 185.5,174 M203,162 L220.6,136 M208,153.6 C213,148 220,145 222,147 C221,152 217,157 215,162 C220,160 226,161 229,160 M229,160 L241.6,134 M230.4,141.7 L243,138.9 M229,160 C233,158 237,156 239.5,154.3" fill="none" stroke="#111" stroke-width="3" stroke-linecap="round" stroke-linejoin="round"/>
<path d="M164.7,146.7 L176.4,151.9" stroke="#111" stroke-width="1.3"/>
<circle cx="184.9" cy="138.9" r="1.8" fill="#111"/>
<text x="301.5" y="140" font-family="Liberation Sans" font-size="26" text-anchor="start" fill="#1a1a1a" textLength="296" lengthAdjust="spacing">Модель:65991.01.64.03</text>
<line x1="263.0" y1="250.3" x2="544.0" y2="250.3" stroke="#222" stroke-width="1.3" />
<line x1="267.0" y1="250.3" x2="315.0" y2="202.5" stroke="#222" stroke-width="1.0" />
<line x1="278.7" y1="250.3" x2="326.7" y2="202.5" stroke="#222" stroke-width="1.0" />
<line x1="290.4" y1="250.3" x2="338.4" y2="202.5" stroke="#222" stroke-width="1.0" />
<line x1="302.1" y1="250.3" x2="350.1" y2="202.5" stroke="#222" stroke-width="1.0" />
<line x1="313.8" y1="250.3" x2="361.8" y2="202.5" stroke="#222" stroke-width="1.0" />
<line x1="325.5" y1="250.3" x2="373.5" y2="202.5" stroke="#222" stroke-width="1.0" />
<line x1="337.2" y1="250.3" x2="385.2" y2="202.5" stroke="#222" stroke-width="1.0" />
<line x1="348.9" y1="250.3" x2="396.9" y2="202.5" stroke="#222" stroke-width="1.0" />
<line x1="360.6" y1="250.3" x2="408.6" y2="202.5" stroke="#222" stroke-width="1.0" />
<line x1="372.3" y1="250.3" x2="420.3" y2="202.5" stroke="#222" stroke-width="1.0" />
<line x1="384.0" y1="250.3" x2="432.0" y2="202.5" stroke="#222" stroke-width="1.0" />
<line x1="395.7" y1="250.3" x2="443.7" y2="202.5" stroke="#222" stroke-width="1.0" />
<line x1="407.4" y1="250.3" x2="455.4" y2="202.5" stroke="#222" stroke-width="1.0" />
<line x1="419.1" y1="250.3" x2="467.1" y2="202.5" stroke="#222" stroke-width="1.0" />
<line x1="430.8" y1="250.3" x2="478.8" y2="202.5" stroke="#222" stroke-width="1.0" />
<line x1="442.5" y1="250.3" x2="490.5" y2="202.5" stroke="#222" stroke-width="1.0" />
<line x1="454.2" y1="250.3" x2="502.2" y2="202.5" stroke="#222" stroke-width="1.0" />
<line x1="465.9" y1="250.3" x2="513.9" y2="202.5" stroke="#222" stroke-width="1.0" />
<line x1="477.6" y1="250.3" x2="525.6" y2="202.5" stroke="#222" stroke-width="1.0" />
<line x1="489.3" y1="250.3" x2="537.3" y2="202.5" stroke="#222" stroke-width="1.0" />
<line x1="501.0" y1="250.3" x2="549.0" y2="202.5" stroke="#222" stroke-width="1.0" />
<line x1="512.7" y1="250.3" x2="560.7" y2="202.5" stroke="#222" stroke-width="1.0" />
<line x1="524.4" y1="250.3" x2="572.4" y2="202.5" stroke="#222" stroke-width="1.0" />
<line x1="536.1" y1="250.3" x2="584.1" y2="202.5" stroke="#222" stroke-width="1.0" />
<text x="303" y="317.5" font-family="Liberation Serif" font-size="25" text-anchor="start" fill="#1a1a1a" >1</text>
<line x1="318.2" y1="308.0" x2="394.0" y2="308.0" stroke="#222" stroke-width="1.1" />
<text x="304" y="362.4" font-family="Liberation Serif" font-size="25" text-anchor="start" fill="#1a1a1a" >2</text>
<line x1="318.2" y1="353.7" x2="362.0" y2="353.7" stroke="#222" stroke-width="1.1" />
<text x="304" y="402" font-family="Liberation Serif" font-size="25" text-anchor="start" fill="#1a1a1a" >3</text>
<line x1="318.2" y1="390.7" x2="356.0" y2="390.7" stroke="#222" stroke-width="1.1" />
<text x="304" y="437" font-family="Liberation Serif" font-size="25" text-anchor="start" fill="#1a1a1a" >4</text>
<line x1="318.2" y1="428.3" x2="395.0" y2="428.3" stroke="#222" stroke-width="1.1" />
<text x="304" y="494" font-family="Liberation Serif" font-size="25" text-anchor="start" fill="#1a1a1a" >5</text>
<line x1="318.2" y1="487.0" x2="444.0" y2="487.0" stroke="#222" stroke-width="1.1" />
<text x="304" y="512" font-family="Liberation Serif" font-size="25" text-anchor="start" fill="#1a1a1a" >6</text>
<line x1="318.2" y1="502.0" x2="405.0" y2="502.0" stroke="#222" stroke-width="1.1" />
<text x="304" y="534" font-family="Liberation Serif" font-size="25" text-anchor="start" fill="#1a1a1a" >7</text>
<line x1="318.2" y1="526.0" x2="340.0" y2="526.0" stroke="#222" stroke-width="1.1" />
<text x="304" y="575" font-family="Liberation Serif" font-size="25" text-anchor="start" fill="#1a1a1a" >8</text>
<line x1="318.2" y1="564.6" x2="362.0" y2="564.6" stroke="#222" stroke-width="1.1" />
<text x="348.5" y="614.6" font-family="Liberation Serif" font-size="25" text-anchor="start" fill="#1a1a1a" >9</text>
<line x1="363.0" y1="604.4" x2="407.0" y2="604.4" stroke="#222" stroke-width="1.1" />
<text x="336" y="641.6" font-family="Liberation Serif" font-size="25" text-anchor="start" fill="#1a1a1a" >10</text>
<line x1="363.0" y1="631.6" x2="407.0" y2="631.6" stroke="#222" stroke-width="1.1" />
<text x="292.5" y="755.8" font-family="Liberation Serif" font-size="25" text-anchor="start" fill="#1a1a1a" >11</text>
<line x1="318.4" y1="746.0" x2="367.0" y2="746.0" stroke="#222" stroke-width="1.1" />
<text x="292.5" y="785.5" font-family="Liberation Serif" font-size="25" text-anchor="start" fill="#1a1a1a" >12</text>
<path d="M318.4,776.2 L385,776.2 L406,741" stroke="#222" stroke-width="1.1" fill="none" />
<text x="340" y="801" font-family="Liberation Serif" font-size="25" text-anchor="start" fill="#1a1a1a" >13</text>
<line x1="367.0" y1="791.6" x2="408.0" y2="791.6" stroke="#222" stroke-width="1.1" />
<text x="340" y="830" font-family="Liberation Serif" font-size="25" text-anchor="start" fill="#1a1a1a" >14</text>
<line x1="367.0" y1="820.0" x2="389.0" y2="820.0" stroke="#222" stroke-width="1.1" />
<text x="340" y="858" font-family="Liberation Serif" font-size="25" text-anchor="start" fill="#1a1a1a" >15</text>
<line x1="367.0" y1="848.6" x2="406.0" y2="848.6" stroke="#222" stroke-width="1.1" />
<text x="508.4" y="930.8" font-family="Liberation Serif" font-size="25" text-anchor="start" fill="#1a1a1a" >16</text>
<line x1="521.0" y1="870.0" x2="521.0" y2="909.2" stroke="#222" stroke-width="1.1" />
<text x="706" y="636" font-family="Liberation Serif" font-size="25" text-anchor="start" fill="#1a1a1a" >17</text>
<line x1="613.0" y1="626.0" x2="708.0" y2="626.0" stroke="#222" stroke-width="1.1" />
<text x="706" y="659" font-family="Liberation Serif" font-size="25" text-anchor="start" fill="#1a1a1a" >18</text>
<line x1="649.0" y1="649.0" x2="708.0" y2="649.0" stroke="#222" stroke-width="1.1" />
<text x="706" y="686" font-family="Liberation Serif" font-size="25" text-anchor="start" fill="#1a1a1a" >19</text>
<line x1="660.0" y1="676.6" x2="708.0" y2="676.6" stroke="#222" stroke-width="1.1" />
<text x="810.5" y="733" font-family="Liberation Serif" font-size="25" text-anchor="start" fill="#1a1a1a" >20</text>
<line x1="763.0" y1="723.2" x2="810.0" y2="723.2" stroke="#222" stroke-width="1.1" />
<text x="855.8" y="837" font-family="Liberation Serif" font-size="25" text-anchor="start" fill="#1a1a1a" >21</text>
<line x1="792.5" y1="827.0" x2="855.0" y2="827.0" stroke="#222" stroke-width="1.1" />
<line x1="398.0" y1="325.0" x2="398.0" y2="410.0" stroke="#222" stroke-width="1.0" stroke-dasharray="2.6,1.3"/>
<line x1="431.0" y1="306.0" x2="431.0" y2="395.0" stroke="#222" stroke-width="1.0" stroke-dasharray="2.6,1.3"/>
<line x1="461.0" y1="318.0" x2="461.0" y2="570.0" stroke="#222" stroke-width="1.0" stroke-dasharray="2.6,1.3"/>
<line x1="367.0" y1="371.0" x2="367.0" y2="570.0" stroke="#222" stroke-width="1.0" stroke-dasharray="2.6,1.3"/>
<path d="M394.2,315 L394.2,297.5 C394.2,293.5 401.8,293.5 401.8,297.5 L401.8,315" fill="#fff" stroke="#222" stroke-width="1.1"/>
<line x1="397.1" y1="295.5" x2="397.1" y2="315.0" stroke="#222" stroke-width="0.9" />
<line x1="398.9" y1="295.5" x2="398.9" y2="315.0" stroke="#222" stroke-width="0.9" />
<line x1="393.4" y1="299.0" x2="395.8" y2="299.0" stroke="#222" stroke-width="1.5" />
<line x1="400.2" y1="299.0" x2="402.6" y2="299.0" stroke="#222" stroke-width="1.5" />
<line x1="393.4" y1="302.3" x2="395.8" y2="302.3" stroke="#222" stroke-width="1.5" />
<line x1="400.2" y1="302.3" x2="402.6" y2="302.3" stroke="#222" stroke-width="1.5" />
<line x1="393.4" y1="305.6" x2="395.8" y2="305.6" stroke="#222" stroke-width="1.5" />
<line x1="400.2" y1="305.6" x2="402.6" y2="305.6" stroke="#222" stroke-width="1.5" />
<line x1="393.4" y1="308.9" x2="395.8" y2="308.9" stroke="#222" stroke-width="1.5" />
<line x1="400.2" y1="308.9" x2="402.6" y2="308.9" stroke="#222" stroke-width="1.5" />
<line x1="393.4" y1="312.2" x2="395.8" y2="312.2" stroke="#222" stroke-width="1.5" />
<line x1="400.2" y1="312.2" x2="402.6" y2="312.2" stroke="#222" stroke-width="1.5" />
<line x1="392.0" y1="315.5" x2="404.0" y2="315.5" stroke="#222" stroke-width="1.8" />
<rect x="394" y="316.5" width="8" height="9" fill="#fff" stroke="#222" stroke-width="1.2"/>
<path d="M427.2,297 L427.2,278.5 C427.2,274.5 434.8,274.5 434.8,278.5 L434.8,297" fill="#fff" stroke="#222" stroke-width="1.1"/>
<line x1="430.1" y1="276.5" x2="430.1" y2="297.0" stroke="#222" stroke-width="0.9" />
<line x1="431.9" y1="276.5" x2="431.9" y2="297.0" stroke="#222" stroke-width="0.9" />
<line x1="426.4" y1="280.0" x2="428.8" y2="280.0" stroke="#222" stroke-width="1.5" />
<line x1="433.2" y1="280.0" x2="435.6" y2="280.0" stroke="#222" stroke-width="1.5" />
<line x1="426.4" y1="283.3" x2="428.8" y2="283.3" stroke="#222" stroke-width="1.5" />
<line x1="433.2" y1="283.3" x2="435.6" y2="283.3" stroke="#222" stroke-width="1.5" />
<line x1="426.4" y1="286.6" x2="428.8" y2="286.6" stroke="#222" stroke-width="1.5" />
<line x1="433.2" y1="286.6" x2="435.6" y2="286.6" stroke="#222" stroke-width="1.5" />
<line x1="426.4" y1="289.9" x2="428.8" y2="289.9" stroke="#222" stroke-width="1.5" />
<line x1="433.2" y1="289.9" x2="435.6" y2="289.9" stroke="#222" stroke-width="1.5" />
<line x1="426.4" y1="293.2" x2="428.8" y2="293.2" stroke="#222" stroke-width="1.5" />
<line x1="433.2" y1="293.2" x2="435.6" y2="293.2" stroke="#222" stroke-width="1.5" />
<line x1="425.0" y1="297.5" x2="437.0" y2="297.5" stroke="#222" stroke-width="1.8" />
<rect x="427" y="298.5" width="8" height="9" fill="#fff" stroke="#222" stroke-width="1.2"/>
<line x1="456.0" y1="289.0" x2="466.0" y2="289.0" stroke="#222" stroke-width="2" />
<line x1="453.5" y1="293.5" x2="468.5" y2="293.5" stroke="#222" stroke-width="1.4" />
<rect x="455" y="297" width="12" height="5" fill="#fff" stroke="#222" stroke-width="1.1"/>
<rect x="458" y="302" width="6" height="16" fill="#fff" stroke="#222" stroke-width="1.1"/>
<line x1="363.0" y1="343.5" x2="373.0" y2="343.5" stroke="#222" stroke-width="2" />
<line x1="360.5" y1="348.0" x2="375.5" y2="348.0" stroke="#222" stroke-width="1.4" />
<rect x="362" y="351.5" width="12" height="5" fill="#fff" stroke="#222" stroke-width="1.1"/>
<rect x="365" y="356.5" width="6" height="16" fill="#fff" stroke="#222" stroke-width="1.1"/>
<path d="M398.4,410 L394.9,420 L394.9,452 M398.4,410 L401.9,420 L401.9,452" stroke="#222" stroke-width="1.0" fill="none" />
<line x1="394.9" y1="419.2" x2="401.9" y2="418.0" stroke="#222" stroke-width="0.9" />
<line x1="394.9" y1="421.4" x2="401.9" y2="420.2" stroke="#222" stroke-width="0.9" />
<line x1="394.9" y1="423.6" x2="401.9" y2="422.4" stroke="#222" stroke-width="0.9" />
<line x1="394.9" y1="425.8" x2="401.9" y2="424.6" stroke="#222" stroke-width="0.9" />
<line x1="394.9" y1="428.0" x2="401.9" y2="426.8" stroke="#222" stroke-width="0.9" />
<line x1="394.9" y1="430.2" x2="401.9" y2="429.0" stroke="#222" stroke-width="0.9" />
<line x1="394.9" y1="432.4" x2="401.9" y2="431.2" stroke="#222" stroke-width="0.9" />
<line x1="394.9" y1="434.6" x2="401.9" y2="433.4" stroke="#222" stroke-width="0.9" />
<line x1="394.9" y1="436.8" x2="401.9" y2="435.6" stroke="#222" stroke-width="0.9" />
<line x1="394.9" y1="439.0" x2="401.9" y2="437.8" stroke="#222" stroke-width="0.9" />
<line x1="394.9" y1="441.2" x2="401.9" y2="440.0" stroke="#222" stroke-width="0.9" />
<line x1="394.9" y1="443.4" x2="401.9" y2="442.2" stroke="#222" stroke-width="0.9" />
<line x1="394.9" y1="445.6" x2="401.9" y2="444.4" stroke="#222" stroke-width="0.9" />
<line x1="394.9" y1="447.8" x2="401.9" y2="446.6" stroke="#222" stroke-width="0.9" />
<line x1="394.9" y1="450.0" x2="401.9" y2="448.8" stroke="#222" stroke-width="0.9" />
<line x1="394.9" y1="452.2" x2="401.9" y2="451.0" stroke="#222" stroke-width="0.9" />
<line x1="392.9" y1="452.0" x2="403.9" y2="452.0" stroke="#222" stroke-width="2" />
<path d="M431,393 L427.5,403 L427.5,433 M431,393 L434.5,403 L434.5,433" stroke="#222" stroke-width="1.0" fill="none" />
<line x1="427.5" y1="402.2" x2="434.5" y2="401.0" stroke="#222" stroke-width="0.9" />
<line x1="427.5" y1="404.4" x2="434.5" y2="403.2" stroke="#222" stroke-width="0.9" />
<line x1="427.5" y1="406.6" x2="434.5" y2="405.4" stroke="#222" stroke-width="0.9" />
<line x1="427.5" y1="408.8" x2="434.5" y2="407.6" stroke="#222" stroke-width="0.9" />
<line x1="427.5" y1="411.0" x2="434.5" y2="409.8" stroke="#222" stroke-width="0.9" />
<line x1="427.5" y1="413.2" x2="434.5" y2="412.0" stroke="#222" stroke-width="0.9" />
<line x1="427.5" y1="415.4" x2="434.5" y2="414.2" stroke="#222" stroke-width="0.9" />
<line x1="427.5" y1="417.6" x2="434.5" y2="416.4" stroke="#222" stroke-width="0.9" />
<line x1="427.5" y1="419.8" x2="434.5" y2="418.6" stroke="#222" stroke-width="0.9" />
<line x1="427.5" y1="422.0" x2="434.5" y2="420.8" stroke="#222" stroke-width="0.9" />
<line x1="427.5" y1="424.2" x2="434.5" y2="423.0" stroke="#222" stroke-width="0.9" />
<line x1="427.5" y1="426.4" x2="434.5" y2="425.2" stroke="#222" stroke-width="0.9" />
<line x1="427.5" y1="428.6" x2="434.5" y2="427.4" stroke="#222" stroke-width="0.9" />
<line x1="427.5" y1="430.8" x2="434.5" y2="429.6" stroke="#222" stroke-width="0.9" />
<line x1="427.5" y1="433.0" x2="434.5" y2="431.8" stroke="#222" stroke-width="0.9" />
<line x1="425.5" y1="433.0" x2="436.5" y2="433.0" stroke="#222" stroke-width="2" />
<path d="M357,388.5 L451.6,334.5 L453.4,338.1 C461,337 468,339.5 472.3,346.2 C473,348 472,349.5 470.5,349.8 L377,404.7 C368,406 359,401 356.2,394.8 C355.5,392 356,390 357,388.5 Z" stroke="#222" stroke-width="1.3" fill="#fff" />
<path d="M358.9,392.1 L453.4,339" stroke="#222" stroke-width="1.0" fill="none" />
<path d="M376,401 L468.7,347 M376,401 L377,404.7" stroke="#222" stroke-width="1.1" fill="none" />
<ellipse cx="376" cy="393.8" rx="11.5" ry="3.8" transform="rotate(-30 376 393.8)" fill="none" stroke="#222" stroke-width="1.1"/>
<ellipse cx="452.8" cy="349.7" rx="11.5" ry="4" transform="rotate(-30 452.8 349.7)" fill="none" stroke="#222" stroke-width="1.1"/>
<ellipse cx="400" cy="381" rx="5.6" ry="3.2" transform="rotate(-30 400 381)" fill="none" stroke="#222" stroke-width="1.1"/>
<ellipse cx="414" cy="373" rx="6.4" ry="3.8" transform="rotate(-30 414 373)" fill="none" stroke="#222" stroke-width="1.1"/>
<ellipse cx="428" cy="364" rx="5.6" ry="3.2" transform="rotate(-30 428 364)" fill="none" stroke="#222" stroke-width="1.1"/>
<line x1="398.0" y1="386.0" x2="398.0" y2="410.0" stroke="#222" stroke-width="1.0" stroke-dasharray="2.6,1.3"/>
<line x1="367.0" y1="390.0" x2="367.0" y2="410.0" stroke="#222" stroke-width="1.0" stroke-dasharray="2.6,1.3"/>
<line x1="431.0" y1="366.0" x2="431.0" y2="393.0" stroke="#222" stroke-width="1.0" stroke-dasharray="2.6,1.3"/>
<line x1="461.0" y1="340.0" x2="461.0" y2="420.0" stroke="#222" stroke-width="1.0" stroke-dasharray="2.6,1.3"/>
<path d="M397,466 C398,456 424,454 431,462 C436,468 428,474 417,473" stroke="#222" stroke-width="1.0" fill="none" />
<path d="M426,467 L416,473 L426,478" stroke="#222" stroke-width="1.0" fill="none" />
<rect x="405" y="499" width="19" height="6" fill="#fff" stroke="#222" stroke-width="1.1"/>
<line x1="410.0" y1="499.0" x2="410.0" y2="505.0" stroke="#222" stroke-width="1" />
<line x1="419.0" y1="499.0" x2="419.0" y2="505.0" stroke="#222" stroke-width="1" />
<rect x="403" y="509" width="23" height="2.5" fill="#fff" stroke="#222" stroke-width="1"/>
<path d="M338.6,519.6 L490.6,519.6 C486,530 480,536 472,536.4 L359,536.4 C351,536 343,530 338.6,519.6 Z" stroke="#222" stroke-width="1.2" fill="#fff" />
<path d="M382,536.4 C392,540 396,548 399,554 L431,554 C434,548 438,540 448,536.4" stroke="#222" stroke-width="1.1" fill="none" />
<line x1="368.0" y1="519.6" x2="368.0" y2="536.0" stroke="#222" stroke-width="1.0" stroke-dasharray="2.6,1.3"/>
<line x1="461.0" y1="519.6" x2="461.0" y2="536.0" stroke="#222" stroke-width="1.0" stroke-dasharray="2.6,1.3"/>
<path d="M414,534.6 C425,520 436,492 446,482 C452,476 458,474 465,474 C480,475 495,480 507,479 C516,478 522,465 528,455 C533,447 538,443 542.8,442.2" stroke="#222" stroke-width="1.2" fill="none" />
<path d="M416.3,534.6 C430,525 446,495 457,486.2 C463,482 468,483 475,483.5 C490,484.5 505,485 515,483 C532,479 550,466 564.3,456.2" stroke="#222" stroke-width="1.2" fill="none" />
<rect x="362" y="559" width="12" height="8" rx="1" fill="#fff" stroke="#222" stroke-width="1.3"/>
<line x1="362.0" y1="562.0" x2="374.0" y2="562.0" stroke="#222" stroke-width="0.9" />
<line x1="362.0" y1="564.5" x2="374.0" y2="564.5" stroke="#222" stroke-width="0.9" />
<path d="M362,567 C365,570 371,570 374,567" stroke="#222" stroke-width="1" fill="none" />
<rect x="455" y="559" width="12" height="8" rx="1" fill="#fff" stroke="#222" stroke-width="1.3"/>
<line x1="455.0" y1="562.0" x2="467.0" y2="562.0" stroke="#222" stroke-width="0.9" />
<line x1="455.0" y1="564.5" x2="467.0" y2="564.5" stroke="#222" stroke-width="0.9" />
<path d="M455,567 C458,570 464,570 467,567" stroke="#222" stroke-width="1" fill="none" />
<path d="M350,586 C353,595 378,598 386,589 C391,582 382,577 368,579" stroke="#222" stroke-width="1.0" fill="none" />
<path d="M378.6,575 L368,579 L378,584.4" stroke="#222" stroke-width="1.0" fill="none" />
<path d="M443,586 C446,595 471,598 479,589 C484,582 475,577 461,579" stroke="#222" stroke-width="1.0" fill="none" />
<path d="M471.6,575 L461,579 L471,584.4" stroke="#222" stroke-width="1.0" fill="none" />
<line x1="407.0" y1="554.0" x2="407.0" y2="694.4" stroke="#222" stroke-width="1.0" />
<line x1="409.4" y1="554.0" x2="409.4" y2="694.4" stroke="#222" stroke-width="1.0" />
<line x1="419.4" y1="554.0" x2="419.4" y2="694.4" stroke="#222" stroke-width="1.0" />
<line x1="422.4" y1="554.0" x2="422.4" y2="694.4" stroke="#222" stroke-width="1.0" />
<path d="M409,536.4 L409,554 M420,536.4 L420,554" stroke="#222" stroke-width="1" fill="none" />
<path d="M403,694.4 L427,694.4 C436,701 450,708 463,711 L367,711 C380,708 394,701 403,694.4 Z" stroke="#222" stroke-width="1.1" fill="#fff" />
<rect x="367" y="712.4" width="96" height="5.6" fill="#fff" stroke="#222" stroke-width="1.1"/>
<rect x="367" y="718" width="96" height="30" fill="#fff" stroke="#222" stroke-width="1.1"/>
<rect x="405" y="712.4" width="18" height="3" fill="#fff" stroke="#222" stroke-width="1"/>
<rect x="371" y="721" width="2.5" height="24" fill="#fff" stroke="#222" stroke-width="1"/>
<rect x="376" y="724" width="7" height="18" fill="#fff" stroke="#222" stroke-width="1"/>
<rect x="378" y="728" width="3" height="10" fill="#fff" stroke="#222" stroke-width="0.9"/>
<rect x="359" y="725" width="8" height="15" fill="#fff" stroke="#222" stroke-width="1"/>
<rect x="455" y="721" width="2.5" height="24" fill="#fff" stroke="#222" stroke-width="1"/>
<rect x="446" y="724" width="7" height="18" fill="#fff" stroke="#222" stroke-width="1"/>
<rect x="448" y="728" width="3" height="10" fill="#fff" stroke="#222" stroke-width="0.9"/>
<rect x="462" y="725" width="8" height="15" fill="#fff" stroke="#222" stroke-width="1"/>
<rect x="405" y="720" width="10" height="20" fill="#fff" stroke="#222" stroke-width="1"/>
<rect x="415" y="719" width="8" height="4" fill="#fff" stroke="#222" stroke-width="1"/>
<path d="M397,720 C402,726 402,742 397,748" stroke="#222" stroke-width="1" fill="none" />
<path d="M391,726 L393,733 L396,722" stroke="#222" stroke-width="0.9" fill="none" />
<path d="M415,728 C428,730 436,745 442,768 M415,734 C425,736 432,748 438,768" stroke="#222" stroke-width="1" fill="none" />
<path d="M446,733 C436,738 438,752 452,766 M446,737 C440,742 443,752 456,766" stroke="#222" stroke-width="1" fill="none" />
<rect x="437" y="767" width="8" height="13" transform="rotate(-15 441 773)" fill="#fff" stroke="#222" stroke-width="1.1"/>
<rect x="451" y="765" width="8" height="13" transform="rotate(-15 455 771)" fill="#fff" stroke="#222" stroke-width="1.1"/>
<rect x="408.6" y="760" width="12" height="35.6" fill="#fff" stroke="#222" stroke-width="1.1"/>
<rect x="405" y="771" width="19" height="3" fill="#fff" stroke="#222" stroke-width="1.1"/>
<rect x="366" y="805" width="97" height="6" fill="#fff" stroke="#222" stroke-width="1.1"/>
<path d="M371,811 C385,814 395,820 403,829 L426,829 C433,820 440,814 447,811" stroke="#222" stroke-width="1.1" fill="none" />
<path d="M406,843 L422,843 C424,850 420,856 414,856 C408,856 404,850 406,843 Z" stroke="#222" stroke-width="1.1" fill="none" />
<path d="M385,894 C390,904 410,908 430,901 C446,895 440,883 416,882" stroke="#222" stroke-width="1.0" fill="none" />
<path d="M431,876 L415,882 L431,889" stroke="#222" stroke-width="1.0" fill="none" />
<path d="M217.5,618.5 C225,628 235,639 252,644.5 C275,651 310,655 328,670 C348,688 357,722 356,745 C355,760 350,771 342.5,778" stroke="#222" stroke-width="10.5" fill="none" stroke-linecap="butt"/>
<path d="M217.5,618.5 C225,628 235,639 252,644.5 C275,651 310,655 328,670 C348,688 357,722 356,745 C355,760 350,771 342.5,778" stroke="#fff" stroke-width="8.3" fill="none" stroke-linecap="butt"/>
<line x1="212.5" y1="621.5" x2="222.5" y2="615.8" stroke="#222" stroke-width="1.2" />
<line x1="339.5" y1="775.5" x2="345.6" y2="780.6" stroke="#222" stroke-width="1.1" />
<path d="M284,615.5 C300,625 316,645 321,668 C326,695 312,715 290,730 C272,745 268,770 282,785 C295,797 325,795 341.5,775.5" stroke="#222" stroke-width="3.0" fill="none" stroke-linecap="butt"/>
<path d="M284,615.5 C300,625 316,645 321,668 C326,695 312,715 290,730 C272,745 268,770 282,785 C295,797 325,795 341.5,775.5" stroke="#fff" stroke-width="0.9" fill="none" stroke-linecap="butt"/>
<circle cx="281" cy="612.4" r="4" fill="#fff" stroke="#222" stroke-width="1.1"/>
<path d="M610.5,618.5 C600,630 590,640 575,644.6 C556,650 535,652 519.6,658.5 C500,667 486,685 478,710 C472,735 476,760 485,781" stroke="#222" stroke-width="9.5" fill="none" stroke-linecap="butt"/>
<path d="M610.5,618.5 C600,630 590,640 575,644.6 C556,650 535,652 519.6,658.5 C500,667 486,685 478,710 C472,735 476,760 485,781" stroke="#fff" stroke-width="7.3" fill="none" stroke-linecap="butt"/>
<line x1="605.8" y1="616.3" x2="615.7" y2="620.5" stroke="#222" stroke-width="1.1" />
<line x1="480.7" y1="781.5" x2="489.0" y2="780.5" stroke="#222" stroke-width="1.1" />
<path d="M544.3,615.5 C528,625 512,642 506,668 C501,695 512,716 535,732 C556,747 560,775 543,788 C528,798 500,792 486,771" stroke="#222" stroke-width="3.0" fill="none" stroke-linecap="butt"/>
<path d="M544.3,615.5 C528,625 512,642 506,668 C501,695 512,716 535,732 C556,747 560,775 543,788 C528,798 500,792 486,771" stroke="#fff" stroke-width="0.9" fill="none" stroke-linecap="butt"/>
<circle cx="548" cy="612.4" r="4" fill="#fff" stroke="#222" stroke-width="1.1"/>
<rect x="306" y="793" width="4" height="10" fill="#fff" stroke="#222" stroke-width="1"/>
<path d="M315.9,814.7 L311.3,819.3 L304.7,819.3 L300.1,814.7 L300.1,808.1 L304.7,803.5 L311.3,803.5 L315.9,808.1 Z" stroke="#222" stroke-width="1.1" fill="#fff" />
<line x1="300.5" y1="811.4" x2="315.5" y2="811.4" stroke="#222" stroke-width="0.8" />
<line x1="302.7" y1="806.1" x2="313.3" y2="816.7" stroke="#222" stroke-width="0.8" />
<line x1="308.0" y1="803.9" x2="308.0" y2="818.9" stroke="#222" stroke-width="0.8" />
<line x1="313.3" y1="806.1" x2="302.7" y2="816.7" stroke="#222" stroke-width="0.8" />
<rect x="306" y="819.6999999999999" width="4" height="7.5" fill="#fff" stroke="#222" stroke-width="1"/>
<circle cx="308" cy="828.9" r="2" fill="#fff" stroke="#222" stroke-width="1"/>
<path d="M308,830 L297,848 C294,856 297,870 308,870 C319,870 322,856 319,848 Z" stroke="#222" stroke-width="1.1" fill="#fff" />
<path d="M305,833 L320,852 M311,833 L296,852 M298,842 L318,866 M318,842 L298,866 M295,857 L307,870 M321,857 L309,870" stroke="#222" stroke-width="0.85" fill="none" />
<rect x="519" y="793" width="4" height="10" fill="#fff" stroke="#222" stroke-width="1"/>
<path d="M528.9,814.7 L524.3,819.3 L517.7,819.3 L513.1,814.7 L513.1,808.1 L517.7,803.5 L524.3,803.5 L528.9,808.1 Z" stroke="#222" stroke-width="1.1" fill="#fff" />
<line x1="513.5" y1="811.4" x2="528.5" y2="811.4" stroke="#222" stroke-width="0.8" />
<line x1="515.7" y1="806.1" x2="526.3" y2="816.7" stroke="#222" stroke-width="0.8" />
<line x1="521.0" y1="803.9" x2="521.0" y2="818.9" stroke="#222" stroke-width="0.8" />
<line x1="526.3" y1="806.1" x2="515.7" y2="816.7" stroke="#222" stroke-width="0.8" />
<rect x="519" y="819.6999999999999" width="4" height="7.5" fill="#fff" stroke="#222" stroke-width="1"/>
<circle cx="521" cy="828.9" r="2" fill="#fff" stroke="#222" stroke-width="1"/>
<path d="M521,830 L510,848 C507,856 510,870 521,870 C532,870 535,856 532,848 Z" stroke="#222" stroke-width="1.1" fill="#fff" />
<path d="M518,833 L533,852 M524,833 L509,852 M511,842 L531,866 M531,842 L511,866 M508,857 L520,870 M534,857 L522,870" stroke="#222" stroke-width="0.85" fill="none" />
<path d="M177.3,650.9 L176.6,651.1 L176.0,651.2 L175.3,651.4 L174.7,651.6 L174.0,651.7 L173.4,651.9 L172.7,652.1 L172.0,652.2 L171.4,652.4 L170.7,652.6 L170.1,652.7 L169.4,652.9 L168.8,653.0 L168.1,653.2 L167.4,653.4 L166.8,653.5 L166.1,653.7 L165.5,653.9 L164.8,654.0 L164.1,654.2 L163.5,654.3 L162.8,654.5 L162.2,654.7 L161.5,654.8 L160.9,655.0 L160.2,655.2 L159.5,655.3 L158.9,655.5 L158.2,655.7 L157.6,655.8 L156.9,656.0 L156.3,656.2 L155.6,656.4 L154.9,656.5 L154.3,656.7 L153.6,656.9 L153.0,657.0 L152.3,657.2 L151.7,657.4 L151.0,657.6 L150.4,657.7 L149.7,657.9 L149.1,658.1 L148.4,658.3 L147.7,658.5 L147.1,658.7 L146.4,658.8 L145.8,659.0 L145.1,659.2 L144.5,659.4 L143.8,659.6 L143.2,659.8 L142.5,660.0 L141.9,660.2 L141.2,660.4 L140.6,660.6 L140.0,660.8 L139.3,661.0 L138.7,661.2 L138.0,661.4 L137.4,661.7 L136.7,661.9 L136.1,662.1 L135.5,662.3 L134.8,662.5 L134.2,662.8 L133.5,663.0 L132.9,663.2 L132.3,663.4 L131.6,663.7 L131.0,663.9 L130.3,664.1 L129.7,664.4 L129.1,664.6 L128.4,664.8 L127.8,665.0 L127.1,665.3 L126.5,665.5 L125.9,665.7 L125.2,665.9 L124.6,666.2 L124.0,666.4 L123.3,666.6 L122.7,666.9 L122.1,667.1 L121.4,667.4 L120.8,667.6 L120.2,667.8 L119.5,668.1 L118.9,668.3 L118.3,668.6 L117.6,668.8 L117.0,669.1 L116.4,669.4 L115.8,669.6 L115.1,669.9 L114.5,670.2 L113.9,670.4 L113.3,670.7 L112.6,671.0 L112.0,671.3 L111.4,671.5 L110.8,671.8 L110.2,672.1 L109.6,672.4 L109.0,672.7 L108.4,673.0 L107.8,673.3 L107.2,673.6 L106.6,673.9 L106.0,674.3 L105.4,674.6 L104.8,674.9 L104.2,675.3 L103.6,675.6 L103.0,675.9 L102.4,676.3 L101.8,676.6 L101.3,677.0 L100.7,677.3 L100.1,677.7 L99.5,678.1 L99.0,678.4 L98.4,678.8 L97.8,679.2 L97.3,679.6 L96.7,680.0 L96.2,680.4 L95.6,680.8 L95.1,681.2 L94.5,681.6 L94.0,682.0 L93.5,682.4 L92.9,682.8 L92.4,683.2 L91.9,683.7 L91.4,684.1 L90.8,684.5 L90.3,685.0 L89.8,685.4 L89.3,685.8 L88.8,686.3 L88.3,686.7 L87.7,687.2 L87.2,687.6 L86.7,688.1 L86.2,688.5 L85.7,689.0 L85.2,689.4 L84.7,689.9 L84.2,690.3 L83.7,690.8 L83.2,691.3 L82.7,691.7 L82.2,692.2 L81.7,692.7 L81.2,693.1 L80.8,693.6 L80.3,694.1 L79.8,694.5 L79.3,695.0 L78.8,695.5 L78.3,695.9 L77.8,696.4 L77.3,696.9 L76.8,697.4 L76.4,697.8 L75.9,698.3 L75.4,698.8 L74.9,699.3 L74.4,699.7 L74.0,700.2 L73.5,700.7 L73.0,701.2 L72.5,701.6 L72.0,702.1 L71.6,702.6 L71.1,703.1 L70.6,703.6 L70.1,704.0 L69.6,704.5 L69.2,705.0 L68.7,705.5 L68.2,706.0 L67.7,706.4 L67.2,706.9 L66.8,707.4 L66.3,707.9 L65.8,708.4 L65.3,708.9 L64.9,709.3 L64.4,709.8 L63.9,710.3 L63.4,710.8 L62.9,711.2 L62.5,711.7 L62.0,712.2 L61.5,712.7 L61.0,713.1 L60.5,713.6 L183.0,815.3 L183.4,814.7 L183.8,814.2 L184.2,813.6 L184.6,813.0 L185.0,812.5 L185.4,811.9 L185.8,811.4 L186.2,810.8 L186.6,810.2 L187.0,809.7 L187.4,809.1 L187.8,808.6 L188.2,808.0 L188.6,807.4 L189.0,806.9 L189.4,806.3 L189.8,805.7 L190.2,805.2 L190.6,804.6 L191.0,804.0 L191.4,803.5 L191.8,802.9 L192.2,802.3 L192.6,801.8 L193.0,801.2 L193.4,800.6 L193.8,800.0 L194.1,799.5 L194.5,798.9 L194.9,798.3 L195.3,797.7 L195.6,797.1 L196.0,796.6 L196.4,796.0 L196.7,795.4 L197.1,794.8 L197.5,794.2 L197.8,793.6 L198.2,793.0 L198.5,792.4 L198.9,791.8 L199.2,791.2 L199.5,790.6 L199.9,790.0 L200.2,789.4 L200.5,788.8 L200.9,788.2 L201.2,787.6 L201.5,787.0 L201.8,786.4 L202.2,785.7 L202.5,785.1 L202.8,784.5 L203.1,783.9 L203.4,783.3 L203.8,782.7 L204.1,782.1 L204.4,781.5 L204.7,780.8 L205.0,780.2 L205.3,779.6 L205.6,779.0 L206.0,778.4 L206.3,777.8 L206.6,777.1 L206.9,776.5 L207.2,775.9 L207.5,775.3 L207.8,774.7 L208.1,774.0 L208.4,773.4 L208.7,772.8 L209.0,772.2 L209.3,771.5 L209.6,770.9 L209.9,770.3 L210.1,769.6 L210.4,769.0 L210.7,768.4 L211.0,767.8 L211.3,767.1 L211.6,766.5 L211.8,765.9 L212.1,765.2 L212.4,764.6 L212.6,764.0 L212.9,763.3 L213.2,762.7 L213.4,762.0 L213.7,761.4 L213.9,760.8 L214.2,760.1 L214.4,759.5 L214.7,758.8 L214.9,758.2 L215.2,757.5 L215.4,756.9 L215.6,756.2 L215.9,755.6 L216.1,754.9 L216.3,754.3 L216.5,753.6 L216.8,752.9 L217.0,752.3 L217.2,751.6 L217.4,751.0 L217.6,750.3 L217.8,749.6 L218.0,749.0 L218.1,748.3 L218.3,747.6 L218.5,747.0 L218.6,746.3 L218.8,745.6 L219.0,745.0 L219.1,744.3 L219.3,743.6 L219.4,742.9 L219.6,742.3 L219.7,741.6 L219.9,740.9 L220.0,740.2 L220.1,739.5 L220.3,738.9 L220.4,738.2 L220.5,737.5 L220.6,736.8 L220.8,736.2 L220.9,735.5 L221.0,734.8 L221.1,734.1 L221.2,733.4 L221.4,732.7 L221.5,732.1 L221.6,731.4 L221.7,730.7 L221.8,730.0 L221.9,729.3 L222.0,728.6 L222.1,728.0 L222.2,727.3 L222.3,726.6 L222.4,725.9 L222.5,725.2 L222.6,724.5 L222.7,723.9 L222.8,723.2 L222.9,722.5 L223.0,721.8 L223.1,721.1 L223.2,720.4 L223.3,719.8 L223.4,719.1 L223.5,718.4 L223.6,717.7 L223.7,717.0 L223.8,716.3 L223.9,715.6 L224.0,715.0 L224.1,714.3 L224.2,713.6 L224.3,712.9 L224.4,712.2 L224.5,711.5 L224.6,710.9 L224.7,710.2 L224.9,709.5 L225.0,708.8 L225.1,708.1 L225.2,707.5 L225.3,706.8 L225.4,706.1 L225.6,705.4 L225.7,704.7 L225.8,704.1 L225.9,703.4 L226.0,702.7 L226.1,702.0 L226.3,701.3 L226.4,700.6 L226.5,700.0 L226.6,699.3 L226.7,698.6 L226.8,697.9 L226.9,697.2 L227.0,696.6 L227.2,695.9 L227.3,695.2 L227.4,694.5 L227.5,693.8 L227.6,693.1 L227.7,692.5 L227.8,691.8 L227.9,691.1 L228.0,690.4 L228.2,689.7 L228.3,689.0 L228.4,688.4 L228.5,687.7 L228.6,687.0 Z" stroke="#222" stroke-width="1.1" fill="#fff" />
<line x1="175.3" y1="651.4" x2="181.4" y2="654.7" stroke="#222" stroke-width="1.05"/>
<line x1="172.0" y1="652.2" x2="178.7" y2="656.3" stroke="#222" stroke-width="1.05"/>
<line x1="162.2" y1="654.7" x2="170.6" y2="661.1" stroke="#222" stroke-width="1.05"/>
<line x1="158.9" y1="655.5" x2="167.9" y2="662.7" stroke="#222" stroke-width="1.05"/>
<line x1="149.1" y1="658.1" x2="159.8" y2="667.6" stroke="#222" stroke-width="1.05"/>
<line x1="145.8" y1="659.0" x2="157.1" y2="669.2" stroke="#222" stroke-width="1.05"/>
<line x1="136.1" y1="662.1" x2="149.1" y2="674.1" stroke="#222" stroke-width="1.05"/>
<line x1="132.9" y1="663.2" x2="146.4" y2="675.7" stroke="#222" stroke-width="1.05"/>
<line x1="123.3" y1="666.6" x2="138.4" y2="680.7" stroke="#222" stroke-width="1.05"/>
<line x1="120.2" y1="667.8" x2="135.8" y2="682.4" stroke="#222" stroke-width="1.05"/>
<line x1="110.8" y1="671.8" x2="128.0" y2="687.6" stroke="#222" stroke-width="1.05"/>
<line x1="107.8" y1="673.3" x2="125.4" y2="689.4" stroke="#222" stroke-width="1.05"/>
<line x1="99.0" y1="678.4" x2="117.6" y2="694.8" stroke="#222" stroke-width="1.05"/>
<line x1="96.2" y1="680.4" x2="115.1" y2="696.6" stroke="#222" stroke-width="1.05"/>
<line x1="88.3" y1="686.7" x2="107.4" y2="702.1" stroke="#222" stroke-width="1.05"/>
<line x1="85.7" y1="689.0" x2="104.9" y2="703.9" stroke="#222" stroke-width="1.05"/>
<line x1="78.3" y1="695.9" x2="97.3" y2="709.4" stroke="#222" stroke-width="1.05"/>
<line x1="75.9" y1="698.3" x2="94.7" y2="711.3" stroke="#222" stroke-width="1.05"/>
<line x1="68.7" y1="705.5" x2="87.1" y2="716.8" stroke="#222" stroke-width="1.05"/>
<line x1="66.3" y1="707.9" x2="84.6" y2="718.7" stroke="#222" stroke-width="1.05"/>
<line x1="181.4" y1="654.7" x2="193.1" y2="664.5" stroke="#222" stroke-width="1.05"/>
<line x1="178.7" y1="656.3" x2="190.8" y2="666.7" stroke="#222" stroke-width="1.05"/>
<line x1="170.6" y1="661.1" x2="184.2" y2="673.1" stroke="#222" stroke-width="1.05"/>
<line x1="167.9" y1="662.7" x2="181.9" y2="675.2" stroke="#222" stroke-width="1.05"/>
<line x1="159.8" y1="667.6" x2="175.3" y2="681.6" stroke="#222" stroke-width="1.05"/>
<line x1="157.1" y1="669.2" x2="173.0" y2="683.7" stroke="#222" stroke-width="1.05"/>
<line x1="149.1" y1="674.1" x2="166.3" y2="690.1" stroke="#222" stroke-width="1.05"/>
<line x1="146.4" y1="675.7" x2="164.0" y2="692.2" stroke="#222" stroke-width="1.05"/>
<line x1="138.4" y1="680.7" x2="157.2" y2="698.5" stroke="#222" stroke-width="1.05"/>
<line x1="135.8" y1="682.4" x2="155.0" y2="700.5" stroke="#222" stroke-width="1.05"/>
<line x1="128.0" y1="687.6" x2="148.0" y2="706.7" stroke="#222" stroke-width="1.05"/>
<line x1="125.4" y1="689.4" x2="145.7" y2="708.7" stroke="#222" stroke-width="1.05"/>
<line x1="117.6" y1="694.8" x2="138.6" y2="714.6" stroke="#222" stroke-width="1.05"/>
<line x1="115.1" y1="696.6" x2="136.2" y2="716.5" stroke="#222" stroke-width="1.05"/>
<line x1="107.4" y1="702.1" x2="129.0" y2="722.3" stroke="#222" stroke-width="1.05"/>
<line x1="104.9" y1="703.9" x2="126.6" y2="724.2" stroke="#222" stroke-width="1.05"/>
<line x1="97.3" y1="709.4" x2="119.3" y2="730.0" stroke="#222" stroke-width="1.05"/>
<line x1="94.7" y1="711.3" x2="116.9" y2="731.9" stroke="#222" stroke-width="1.05"/>
<line x1="87.1" y1="716.8" x2="109.6" y2="737.5" stroke="#222" stroke-width="1.05"/>
<line x1="84.6" y1="718.7" x2="107.1" y2="739.4" stroke="#222" stroke-width="1.05"/>
<line x1="193.1" y1="664.5" x2="199.0" y2="671.4" stroke="#222" stroke-width="1.05"/>
<line x1="190.8" y1="666.7" x2="197.3" y2="673.8" stroke="#222" stroke-width="1.05"/>
<line x1="184.2" y1="673.1" x2="192.1" y2="681.2" stroke="#222" stroke-width="1.05"/>
<line x1="181.9" y1="675.2" x2="190.4" y2="683.7" stroke="#222" stroke-width="1.05"/>
<line x1="175.3" y1="681.6" x2="185.1" y2="691.0" stroke="#222" stroke-width="1.05"/>
<line x1="173.0" y1="683.7" x2="183.4" y2="693.5" stroke="#222" stroke-width="1.05"/>
<line x1="166.3" y1="690.1" x2="178.1" y2="700.8" stroke="#222" stroke-width="1.05"/>
<line x1="164.0" y1="692.2" x2="176.3" y2="703.2" stroke="#222" stroke-width="1.05"/>
<line x1="157.2" y1="698.5" x2="170.9" y2="710.5" stroke="#222" stroke-width="1.05"/>
<line x1="155.0" y1="700.5" x2="169.1" y2="712.8" stroke="#222" stroke-width="1.05"/>
<line x1="148.0" y1="706.7" x2="163.5" y2="719.9" stroke="#222" stroke-width="1.05"/>
<line x1="145.7" y1="708.7" x2="161.6" y2="722.2" stroke="#222" stroke-width="1.05"/>
<line x1="138.6" y1="714.6" x2="155.7" y2="729.1" stroke="#222" stroke-width="1.05"/>
<line x1="136.2" y1="716.5" x2="153.7" y2="731.3" stroke="#222" stroke-width="1.05"/>
<line x1="129.0" y1="722.3" x2="147.6" y2="738.0" stroke="#222" stroke-width="1.05"/>
<line x1="126.6" y1="724.2" x2="145.5" y2="740.2" stroke="#222" stroke-width="1.05"/>
<line x1="119.3" y1="730.0" x2="139.4" y2="746.8" stroke="#222" stroke-width="1.05"/>
<line x1="116.9" y1="731.9" x2="137.3" y2="749.0" stroke="#222" stroke-width="1.05"/>
<line x1="109.6" y1="737.5" x2="131.1" y2="755.5" stroke="#222" stroke-width="1.05"/>
<line x1="107.1" y1="739.4" x2="129.0" y2="757.7" stroke="#222" stroke-width="1.05"/>
<line x1="199.0" y1="671.4" x2="205.1" y2="677.3" stroke="#222" stroke-width="1.05"/>
<line x1="197.3" y1="673.8" x2="203.8" y2="680.1" stroke="#222" stroke-width="1.05"/>
<line x1="192.1" y1="681.2" x2="200.2" y2="688.5" stroke="#222" stroke-width="1.05"/>
<line x1="190.4" y1="683.7" x2="199.0" y2="691.3" stroke="#222" stroke-width="1.05"/>
<line x1="185.1" y1="691.0" x2="195.4" y2="699.6" stroke="#222" stroke-width="1.05"/>
<line x1="183.4" y1="693.5" x2="194.1" y2="702.4" stroke="#222" stroke-width="1.05"/>
<line x1="178.1" y1="700.8" x2="190.3" y2="710.7" stroke="#222" stroke-width="1.05"/>
<line x1="176.3" y1="703.2" x2="188.9" y2="713.5" stroke="#222" stroke-width="1.05"/>
<line x1="170.9" y1="710.5" x2="184.8" y2="721.6" stroke="#222" stroke-width="1.05"/>
<line x1="169.1" y1="712.8" x2="183.4" y2="724.3" stroke="#222" stroke-width="1.05"/>
<line x1="163.5" y1="719.9" x2="178.8" y2="732.2" stroke="#222" stroke-width="1.05"/>
<line x1="161.6" y1="722.2" x2="177.3" y2="734.8" stroke="#222" stroke-width="1.05"/>
<line x1="155.7" y1="729.1" x2="172.4" y2="742.6" stroke="#222" stroke-width="1.05"/>
<line x1="153.7" y1="731.3" x2="170.8" y2="745.2" stroke="#222" stroke-width="1.05"/>
<line x1="147.6" y1="738.0" x2="165.9" y2="752.9" stroke="#222" stroke-width="1.05"/>
<line x1="145.5" y1="740.2" x2="164.2" y2="755.5" stroke="#222" stroke-width="1.05"/>
<line x1="139.4" y1="746.8" x2="159.3" y2="763.1" stroke="#222" stroke-width="1.05"/>
<line x1="137.3" y1="749.0" x2="157.6" y2="765.7" stroke="#222" stroke-width="1.05"/>
<line x1="131.1" y1="755.5" x2="152.6" y2="773.3" stroke="#222" stroke-width="1.05"/>
<line x1="129.0" y1="757.7" x2="150.9" y2="775.9" stroke="#222" stroke-width="1.05"/>
<line x1="205.1" y1="677.3" x2="216.7" y2="686.9" stroke="#222" stroke-width="1.05"/>
<line x1="203.8" y1="680.1" x2="215.9" y2="690.0" stroke="#222" stroke-width="1.05"/>
<line x1="200.2" y1="688.5" x2="213.6" y2="699.1" stroke="#222" stroke-width="1.05"/>
<line x1="199.0" y1="691.3" x2="212.8" y2="702.2" stroke="#222" stroke-width="1.05"/>
<line x1="195.4" y1="699.6" x2="210.4" y2="711.3" stroke="#222" stroke-width="1.05"/>
<line x1="194.1" y1="702.4" x2="209.5" y2="714.3" stroke="#222" stroke-width="1.05"/>
<line x1="190.3" y1="710.7" x2="206.7" y2="723.3" stroke="#222" stroke-width="1.05"/>
<line x1="188.9" y1="713.5" x2="205.8" y2="726.3" stroke="#222" stroke-width="1.05"/>
<line x1="184.8" y1="721.6" x2="202.5" y2="735.1" stroke="#222" stroke-width="1.05"/>
<line x1="183.4" y1="724.3" x2="201.3" y2="738.1" stroke="#222" stroke-width="1.05"/>
<line x1="178.8" y1="732.2" x2="197.4" y2="746.7" stroke="#222" stroke-width="1.05"/>
<line x1="177.3" y1="734.8" x2="196.1" y2="749.5" stroke="#222" stroke-width="1.05"/>
<line x1="172.4" y1="742.6" x2="192.0" y2="758.0" stroke="#222" stroke-width="1.05"/>
<line x1="170.8" y1="745.2" x2="190.6" y2="760.8" stroke="#222" stroke-width="1.05"/>
<line x1="165.9" y1="752.9" x2="186.3" y2="769.2" stroke="#222" stroke-width="1.05"/>
<line x1="164.2" y1="755.5" x2="184.8" y2="772.0" stroke="#222" stroke-width="1.05"/>
<line x1="159.3" y1="763.1" x2="180.5" y2="780.4" stroke="#222" stroke-width="1.05"/>
<line x1="157.6" y1="765.7" x2="179.0" y2="783.2" stroke="#222" stroke-width="1.05"/>
<line x1="152.6" y1="773.3" x2="174.6" y2="791.5" stroke="#222" stroke-width="1.05"/>
<line x1="150.9" y1="775.9" x2="173.2" y2="794.3" stroke="#222" stroke-width="1.05"/>
<line x1="216.7" y1="686.9" x2="228.3" y2="689.0" stroke="#222" stroke-width="1.05"/>
<line x1="215.9" y1="690.0" x2="227.7" y2="692.5" stroke="#222" stroke-width="1.05"/>
<line x1="213.6" y1="699.1" x2="226.0" y2="702.7" stroke="#222" stroke-width="1.05"/>
<line x1="212.8" y1="702.2" x2="225.4" y2="706.1" stroke="#222" stroke-width="1.05"/>
<line x1="210.4" y1="711.3" x2="223.8" y2="716.3" stroke="#222" stroke-width="1.05"/>
<line x1="209.5" y1="714.3" x2="223.3" y2="719.8" stroke="#222" stroke-width="1.05"/>
<line x1="206.7" y1="723.3" x2="221.8" y2="730.0" stroke="#222" stroke-width="1.05"/>
<line x1="205.8" y1="726.3" x2="221.2" y2="733.4" stroke="#222" stroke-width="1.05"/>
<line x1="202.5" y1="735.1" x2="219.3" y2="743.6" stroke="#222" stroke-width="1.05"/>
<line x1="201.3" y1="738.1" x2="218.5" y2="747.0" stroke="#222" stroke-width="1.05"/>
<line x1="197.4" y1="746.7" x2="215.4" y2="756.9" stroke="#222" stroke-width="1.05"/>
<line x1="196.1" y1="749.5" x2="214.2" y2="760.1" stroke="#222" stroke-width="1.05"/>
<line x1="192.0" y1="758.0" x2="210.1" y2="769.6" stroke="#222" stroke-width="1.05"/>
<line x1="190.6" y1="760.8" x2="208.7" y2="772.8" stroke="#222" stroke-width="1.05"/>
<line x1="186.3" y1="769.2" x2="204.1" y2="782.1" stroke="#222" stroke-width="1.05"/>
<line x1="184.8" y1="772.0" x2="202.5" y2="785.1" stroke="#222" stroke-width="1.05"/>
<line x1="180.5" y1="780.4" x2="197.5" y2="794.2" stroke="#222" stroke-width="1.05"/>
<line x1="179.0" y1="783.2" x2="195.6" y2="797.1" stroke="#222" stroke-width="1.05"/>
<line x1="174.6" y1="791.5" x2="189.8" y2="805.7" stroke="#222" stroke-width="1.05"/>
<line x1="173.2" y1="794.3" x2="187.8" y2="808.6" stroke="#222" stroke-width="1.05"/>
<path d="M183.0,653.8 L180.3,655.4 L177.6,657.0 L174.9,658.6 L172.2,660.2 L169.5,661.8 L166.8,663.4 L164.1,665.0 L161.4,666.6 L158.7,668.2 L156.1,669.8 L153.4,671.5 L150.7,673.1 L148.0,674.7 L145.4,676.4 L142.7,678.0 L140.0,679.7 L137.4,681.4 L134.8,683.1 L132.1,684.8 L129.5,686.6 L126.9,688.3 L124.3,690.1 L121.8,691.9 L119.2,693.7 L116.6,695.5 L114.1,697.3 L111.5,699.1 L109.0,701.0 L106.4,702.8 L103.9,704.6 L101.3,706.5 L98.8,708.3 L96.3,710.2 L93.7,712.0 L91.2,713.9 L88.6,715.7 L86.1,717.6 L83.6,719.4 L81.0,721.3 L78.5,723.1" stroke="#222" stroke-width="5.6" fill="none" stroke-linecap="butt"/>
<path d="M183.0,653.8 L180.3,655.4 L177.6,657.0 L174.9,658.6 L172.2,660.2 L169.5,661.8 L166.8,663.4 L164.1,665.0 L161.4,666.6 L158.7,668.2 L156.1,669.8 L153.4,671.5 L150.7,673.1 L148.0,674.7 L145.4,676.4 L142.7,678.0 L140.0,679.7 L137.4,681.4 L134.8,683.1 L132.1,684.8 L129.5,686.6 L126.9,688.3 L124.3,690.1 L121.8,691.9 L119.2,693.7 L116.6,695.5 L114.1,697.3 L111.5,699.1 L109.0,701.0 L106.4,702.8 L103.9,704.6 L101.3,706.5 L98.8,708.3 L96.3,710.2 L93.7,712.0 L91.2,713.9 L88.6,715.7 L86.1,717.6 L83.6,719.4 L81.0,721.3 L78.5,723.1" stroke="#fff" stroke-width="3.4" fill="none" stroke-linecap="butt"/>
<path d="M194.4,663.2 L192.2,665.4 L189.9,667.5 L187.7,669.6 L185.5,671.8 L183.3,673.9 L181.0,676.1 L178.8,678.2 L176.6,680.3 L174.4,682.4 L172.1,684.6 L169.9,686.7 L167.6,688.8 L165.4,690.9 L163.1,693.0 L160.9,695.1 L158.6,697.2 L156.3,699.3 L154.0,701.4 L151.7,703.4 L149.4,705.4 L147.1,707.5 L144.7,709.5 L142.4,711.4 L140.0,713.4 L137.6,715.4 L135.2,717.3 L132.8,719.2 L130.4,721.2 L128.0,723.1 L125.6,725.0 L123.2,726.9 L120.7,728.8 L118.3,730.7 L115.9,732.6 L113.4,734.5 L111.0,736.4 L108.6,738.3 L106.1,740.2 L103.7,742.1 L101.3,744.0" stroke="#222" stroke-width="5.6" fill="none" stroke-linecap="butt"/>
<path d="M194.4,663.2 L192.2,665.4 L189.9,667.5 L187.7,669.6 L185.5,671.8 L183.3,673.9 L181.0,676.1 L178.8,678.2 L176.6,680.3 L174.4,682.4 L172.1,684.6 L169.9,686.7 L167.6,688.8 L165.4,690.9 L163.1,693.0 L160.9,695.1 L158.6,697.2 L156.3,699.3 L154.0,701.4 L151.7,703.4 L149.4,705.4 L147.1,707.5 L144.7,709.5 L142.4,711.4 L140.0,713.4 L137.6,715.4 L135.2,717.3 L132.8,719.2 L130.4,721.2 L128.0,723.1 L125.6,725.0 L123.2,726.9 L120.7,728.8 L118.3,730.7 L115.9,732.6 L113.4,734.5 L111.0,736.4 L108.6,738.3 L106.1,740.2 L103.7,742.1 L101.3,744.0" stroke="#fff" stroke-width="3.4" fill="none" stroke-linecap="butt"/>
<path d="M200.1,669.9 L198.3,672.3 L196.6,674.8 L194.9,677.3 L193.1,679.7 L191.4,682.2 L189.7,684.6 L187.9,687.1 L186.2,689.6 L184.4,692.0 L182.7,694.5 L180.9,696.9 L179.2,699.3 L177.4,701.8 L175.6,704.2 L173.8,706.6 L172.0,709.0 L170.2,711.4 L168.4,713.8 L166.5,716.2 L164.6,718.5 L162.7,720.8 L160.8,723.2 L158.8,725.4 L156.9,727.7 L154.9,730.0 L152.9,732.2 L150.8,734.4 L148.8,736.7 L146.8,738.9 L144.7,741.1 L142.7,743.3 L140.6,745.5 L138.6,747.7 L136.5,749.9 L134.4,752.1 L132.4,754.2 L130.3,756.4 L128.2,758.6 L126.1,760.8 L124.1,763.0" stroke="#222" stroke-width="5.6" fill="none" stroke-linecap="butt"/>
<path d="M200.1,669.9 L198.3,672.3 L196.6,674.8 L194.9,677.3 L193.1,679.7 L191.4,682.2 L189.7,684.6 L187.9,687.1 L186.2,689.6 L184.4,692.0 L182.7,694.5 L180.9,696.9 L179.2,699.3 L177.4,701.8 L175.6,704.2 L173.8,706.6 L172.0,709.0 L170.2,711.4 L168.4,713.8 L166.5,716.2 L164.6,718.5 L162.7,720.8 L160.8,723.2 L158.8,725.4 L156.9,727.7 L154.9,730.0 L152.9,732.2 L150.8,734.4 L148.8,736.7 L146.8,738.9 L144.7,741.1 L142.7,743.3 L140.6,745.5 L138.6,747.7 L136.5,749.9 L134.4,752.1 L132.4,754.2 L130.3,756.4 L128.2,758.6 L126.1,760.8 L124.1,763.0" stroke="#fff" stroke-width="3.4" fill="none" stroke-linecap="butt"/>
<path d="M205.8,675.6 L204.6,678.4 L203.3,681.2 L202.1,684.0 L201.0,686.8 L199.8,689.6 L198.5,692.4 L197.3,695.2 L196.1,698.0 L194.9,700.8 L193.6,703.5 L192.4,706.3 L191.1,709.1 L189.7,711.8 L188.4,714.6 L187.1,717.3 L185.7,720.0 L184.2,722.7 L182.8,725.4 L181.3,728.0 L179.8,730.7 L178.2,733.3 L176.6,735.9 L175.0,738.5 L173.4,741.1 L171.8,743.7 L170.2,746.2 L168.5,748.8 L166.9,751.4 L165.2,753.9 L163.6,756.5 L161.9,759.0 L160.3,761.6 L158.6,764.1 L156.9,766.7 L155.2,769.2 L153.6,771.8 L151.9,774.3 L150.2,776.9 L148.5,779.4 L146.9,782.0" stroke="#222" stroke-width="5.6" fill="none" stroke-linecap="butt"/>
<path d="M205.8,675.6 L204.6,678.4 L203.3,681.2 L202.1,684.0 L201.0,686.8 L199.8,689.6 L198.5,692.4 L197.3,695.2 L196.1,698.0 L194.9,700.8 L193.6,703.5 L192.4,706.3 L191.1,709.1 L189.7,711.8 L188.4,714.6 L187.1,717.3 L185.7,720.0 L184.2,722.7 L182.8,725.4 L181.3,728.0 L179.8,730.7 L178.2,733.3 L176.6,735.9 L175.0,738.5 L173.4,741.1 L171.8,743.7 L170.2,746.2 L168.5,748.8 L166.9,751.4 L165.2,753.9 L163.6,756.5 L161.9,759.0 L160.3,761.6 L158.6,764.1 L156.9,766.7 L155.2,769.2 L153.6,771.8 L151.9,774.3 L150.2,776.9 L148.5,779.4 L146.9,782.0" stroke="#fff" stroke-width="3.4" fill="none" stroke-linecap="butt"/>
<path d="M217.2,685.1 L216.4,688.1 L215.6,691.2 L214.8,694.2 L214.1,697.3 L213.3,700.3 L212.5,703.4 L211.7,706.4 L210.9,709.4 L210.0,712.5 L209.2,715.5 L208.3,718.5 L207.3,721.5 L206.3,724.5 L205.3,727.5 L204.3,730.4 L203.2,733.4 L202.0,736.3 L200.8,739.2 L199.5,742.1 L198.2,745.0 L196.9,747.8 L195.6,750.6 L194.2,753.5 L192.8,756.3 L191.4,759.1 L190.0,761.9 L188.6,764.7 L187.1,767.5 L185.7,770.3 L184.3,773.1 L182.8,775.9 L181.4,778.7 L179.9,781.5 L178.4,784.3 L177.0,787.1 L175.5,789.8 L174.0,792.6 L172.6,795.4 L171.1,798.2 L169.7,801.0" stroke="#222" stroke-width="5.6" fill="none" stroke-linecap="butt"/>
<path d="M217.2,685.1 L216.4,688.1 L215.6,691.2 L214.8,694.2 L214.1,697.3 L213.3,700.3 L212.5,703.4 L211.7,706.4 L210.9,709.4 L210.0,712.5 L209.2,715.5 L208.3,718.5 L207.3,721.5 L206.3,724.5 L205.3,727.5 L204.3,730.4 L203.2,733.4 L202.0,736.3 L200.8,739.2 L199.5,742.1 L198.2,745.0 L196.9,747.8 L195.6,750.6 L194.2,753.5 L192.8,756.3 L191.4,759.1 L190.0,761.9 L188.6,764.7 L187.1,767.5 L185.7,770.3 L184.3,773.1 L182.8,775.9 L181.4,778.7 L179.9,781.5 L178.4,784.3 L177.0,787.1 L175.5,789.8 L174.0,792.6 L172.6,795.4 L171.1,798.2 L169.7,801.0" stroke="#fff" stroke-width="3.4" fill="none" stroke-linecap="butt"/>
<path d="M177.3,650.9 L176.6,651.1 L176.0,651.2 L175.3,651.4 L174.7,651.6 L174.0,651.7 L173.4,651.9 L172.7,652.1 L172.0,652.2 L171.4,652.4 L170.7,652.6 L170.1,652.7 L169.4,652.9 L168.8,653.0 L168.1,653.2 L167.4,653.4 L166.8,653.5 L166.1,653.7 L165.5,653.9 L164.8,654.0 L164.1,654.2 L163.5,654.3 L162.8,654.5 L162.2,654.7 L161.5,654.8 L160.9,655.0 L160.2,655.2 L159.5,655.3 L158.9,655.5 L158.2,655.7 L157.6,655.8 L156.9,656.0 L156.3,656.2 L155.6,656.4 L154.9,656.5 L154.3,656.7 L153.6,656.9 L153.0,657.0 L152.3,657.2 L151.7,657.4 L151.0,657.6 L150.4,657.7 L149.7,657.9 L149.1,658.1 L148.4,658.3 L147.7,658.5 L147.1,658.7 L146.4,658.8 L145.8,659.0 L145.1,659.2 L144.5,659.4 L143.8,659.6 L143.2,659.8 L142.5,660.0 L141.9,660.2 L141.2,660.4 L140.6,660.6 L140.0,660.8 L139.3,661.0 L138.7,661.2 L138.0,661.4 L137.4,661.7 L136.7,661.9 L136.1,662.1 L135.5,662.3 L134.8,662.5 L134.2,662.8 L133.5,663.0 L132.9,663.2 L132.3,663.4 L131.6,663.7 L131.0,663.9 L130.3,664.1 L129.7,664.4 L129.1,664.6 L128.4,664.8 L127.8,665.0 L127.1,665.3 L126.5,665.5 L125.9,665.7 L125.2,665.9 L124.6,666.2 L124.0,666.4 L123.3,666.6 L122.7,666.9 L122.1,667.1 L121.4,667.4 L120.8,667.6 L120.2,667.8 L119.5,668.1 L118.9,668.3 L118.3,668.6 L117.6,668.8 L117.0,669.1 L116.4,669.4 L115.8,669.6 L115.1,669.9 L114.5,670.2 L113.9,670.4 L113.3,670.7 L112.6,671.0 L112.0,671.3 L111.4,671.5 L110.8,671.8 L110.2,672.1 L109.6,672.4 L109.0,672.7 L108.4,673.0 L107.8,673.3 L107.2,673.6 L106.6,673.9 L106.0,674.3 L105.4,674.6 L104.8,674.9 L104.2,675.3 L103.6,675.6 L103.0,675.9 L102.4,676.3 L101.8,676.6 L101.3,677.0 L100.7,677.3 L100.1,677.7 L99.5,678.1 L99.0,678.4 L98.4,678.8 L97.8,679.2 L97.3,679.6 L96.7,680.0 L96.2,680.4 L95.6,680.8 L95.1,681.2 L94.5,681.6 L94.0,682.0 L93.5,682.4 L92.9,682.8 L92.4,683.2 L91.9,683.7 L91.4,684.1 L90.8,684.5 L90.3,685.0 L89.8,685.4 L89.3,685.8 L88.8,686.3 L88.3,686.7 L87.7,687.2 L87.2,687.6 L86.7,688.1 L86.2,688.5 L85.7,689.0 L85.2,689.4 L84.7,689.9 L84.2,690.3 L83.7,690.8 L83.2,691.3 L82.7,691.7 L82.2,692.2 L81.7,692.7 L81.2,693.1 L80.8,693.6 L80.3,694.1 L79.8,694.5 L79.3,695.0 L78.8,695.5 L78.3,695.9 L77.8,696.4 L77.3,696.9 L76.8,697.4 L76.4,697.8 L75.9,698.3 L75.4,698.8 L74.9,699.3 L74.4,699.7 L74.0,700.2 L73.5,700.7 L73.0,701.2 L72.5,701.6 L72.0,702.1 L71.6,702.6 L71.1,703.1 L70.6,703.6 L70.1,704.0 L69.6,704.5 L69.2,705.0 L68.7,705.5 L68.2,706.0 L67.7,706.4 L67.2,706.9 L66.8,707.4 L66.3,707.9 L65.8,708.4 L65.3,708.9 L64.9,709.3 L64.4,709.8 L63.9,710.3 L63.4,710.8 L62.9,711.2 L62.5,711.7 L62.0,712.2 L61.5,712.7 L61.0,713.1 L60.5,713.6 L183.0,815.3 L183.4,814.7 L183.8,814.2 L184.2,813.6 L184.6,813.0 L185.0,812.5 L185.4,811.9 L185.8,811.4 L186.2,810.8 L186.6,810.2 L187.0,809.7 L187.4,809.1 L187.8,808.6 L188.2,808.0 L188.6,807.4 L189.0,806.9 L189.4,806.3 L189.8,805.7 L190.2,805.2 L190.6,804.6 L191.0,804.0 L191.4,803.5 L191.8,802.9 L192.2,802.3 L192.6,801.8 L193.0,801.2 L193.4,800.6 L193.8,800.0 L194.1,799.5 L194.5,798.9 L194.9,798.3 L195.3,797.7 L195.6,797.1 L196.0,796.6 L196.4,796.0 L196.7,795.4 L197.1,794.8 L197.5,794.2 L197.8,793.6 L198.2,793.0 L198.5,792.4 L198.9,791.8 L199.2,791.2 L199.5,790.6 L199.9,790.0 L200.2,789.4 L200.5,788.8 L200.9,788.2 L201.2,787.6 L201.5,787.0 L201.8,786.4 L202.2,785.7 L202.5,785.1 L202.8,784.5 L203.1,783.9 L203.4,783.3 L203.8,782.7 L204.1,782.1 L204.4,781.5 L204.7,780.8 L205.0,780.2 L205.3,779.6 L205.6,779.0 L206.0,778.4 L206.3,777.8 L206.6,777.1 L206.9,776.5 L207.2,775.9 L207.5,775.3 L207.8,774.7 L208.1,774.0 L208.4,773.4 L208.7,772.8 L209.0,772.2 L209.3,771.5 L209.6,770.9 L209.9,770.3 L210.1,769.6 L210.4,769.0 L210.7,768.4 L211.0,767.8 L211.3,767.1 L211.6,766.5 L211.8,765.9 L212.1,765.2 L212.4,764.6 L212.6,764.0 L212.9,763.3 L213.2,762.7 L213.4,762.0 L213.7,761.4 L213.9,760.8 L214.2,760.1 L214.4,759.5 L214.7,758.8 L214.9,758.2 L215.2,757.5 L215.4,756.9 L215.6,756.2 L215.9,755.6 L216.1,754.9 L216.3,754.3 L216.5,753.6 L216.8,752.9 L217.0,752.3 L217.2,751.6 L217.4,751.0 L217.6,750.3 L217.8,749.6 L218.0,749.0 L218.1,748.3 L218.3,747.6 L218.5,747.0 L218.6,746.3 L218.8,745.6 L219.0,745.0 L219.1,744.3 L219.3,743.6 L219.4,742.9 L219.6,742.3 L219.7,741.6 L219.9,740.9 L220.0,740.2 L220.1,739.5 L220.3,738.9 L220.4,738.2 L220.5,737.5 L220.6,736.8 L220.8,736.2 L220.9,735.5 L221.0,734.8 L221.1,734.1 L221.2,733.4 L221.4,732.7 L221.5,732.1 L221.6,731.4 L221.7,730.7 L221.8,730.0 L221.9,729.3 L222.0,728.6 L222.1,728.0 L222.2,727.3 L222.3,726.6 L222.4,725.9 L222.5,725.2 L222.6,724.5 L222.7,723.9 L222.8,723.2 L222.9,722.5 L223.0,721.8 L223.1,721.1 L223.2,720.4 L223.3,719.8 L223.4,719.1 L223.5,718.4 L223.6,717.7 L223.7,717.0 L223.8,716.3 L223.9,715.6 L224.0,715.0 L224.1,714.3 L224.2,713.6 L224.3,712.9 L224.4,712.2 L224.5,711.5 L224.6,710.9 L224.7,710.2 L224.9,709.5 L225.0,708.8 L225.1,708.1 L225.2,707.5 L225.3,706.8 L225.4,706.1 L225.6,705.4 L225.7,704.7 L225.8,704.1 L225.9,703.4 L226.0,702.7 L226.1,702.0 L226.3,701.3 L226.4,700.6 L226.5,700.0 L226.6,699.3 L226.7,698.6 L226.8,697.9 L226.9,697.2 L227.0,696.6 L227.2,695.9 L227.3,695.2 L227.4,694.5 L227.5,693.8 L227.6,693.1 L227.7,692.5 L227.8,691.8 L227.9,691.1 L228.0,690.4 L228.2,689.7 L228.3,689.0 L228.4,688.4 L228.5,687.7 L228.6,687.0 Z" stroke="#222" stroke-width="1.15" fill="none" />
<path d="M686.8,701.3 L687.5,701.4 L688.2,701.5 L688.9,701.6 L689.6,701.7 L690.2,701.8 L690.9,701.9 L691.6,702.0 L692.3,702.1 L693.0,702.2 L693.7,702.3 L694.4,702.4 L695.1,702.5 L695.8,702.6 L696.5,702.7 L697.2,702.8 L697.8,702.9 L698.5,703.0 L699.2,703.1 L699.9,703.2 L700.6,703.3 L701.3,703.4 L702.0,703.6 L702.7,703.7 L703.4,703.8 L704.0,703.9 L704.7,704.0 L705.4,704.1 L706.1,704.2 L706.8,704.4 L707.5,704.5 L708.2,704.6 L708.9,704.7 L709.5,704.9 L710.2,705.0 L710.9,705.2 L711.6,705.3 L712.3,705.4 L712.9,705.6 L713.6,705.8 L714.3,705.9 L715.0,706.1 L715.7,706.2 L716.3,706.4 L717.0,706.6 L717.7,706.8 L718.4,707.0 L719.0,707.2 L719.7,707.4 L720.4,707.5 L721.0,707.7 L721.7,707.9 L722.4,708.1 L723.0,708.3 L723.7,708.5 L724.4,708.7 L725.0,708.9 L725.7,709.2 L726.4,709.4 L727.0,709.6 L727.7,709.8 L728.4,710.0 L729.0,710.2 L729.7,710.5 L730.3,710.7 L731.0,710.9 L731.7,711.2 L732.3,711.4 L733.0,711.7 L733.6,711.9 L734.3,712.1 L734.9,712.4 L735.6,712.7 L736.2,712.9 L736.9,713.2 L737.5,713.4 L738.1,713.7 L738.8,714.0 L739.4,714.3 L740.1,714.6 L740.7,714.8 L741.3,715.1 L742.0,715.4 L742.6,715.7 L743.2,716.0 L743.9,716.3 L744.5,716.6 L745.1,716.9 L745.7,717.2 L746.4,717.6 L747.0,717.9 L747.6,718.2 L748.2,718.5 L748.8,718.9 L749.4,719.2 L750.1,719.5 L750.7,719.9 L751.3,720.2 L751.9,720.5 L752.5,720.9 L753.1,721.2 L753.7,721.6 L754.3,721.9 L754.9,722.3 L755.5,722.7 L756.1,723.0 L756.7,723.4 L757.3,723.7 L757.9,724.1 L758.5,724.5 L759.1,724.9 L759.7,725.2 L760.2,725.6 L760.8,726.0 L761.4,726.3 L762.0,726.7 L762.6,727.1 L763.2,727.5 L763.8,727.9 L764.4,728.2 L764.9,728.6 L765.5,729.0 L766.1,729.4 L766.7,729.8 L767.3,730.2 L767.8,730.5 L768.4,730.9 L769.0,731.3 L769.6,731.7 L770.2,732.1 L770.7,732.5 L771.3,732.9 L771.9,733.3 L772.5,733.7 L773.0,734.1 L773.6,734.5 L774.2,734.9 L774.8,735.3 L775.3,735.7 L775.9,736.1 L776.5,736.5 L777.0,736.9 L777.6,737.3 L778.2,737.7 L778.8,738.1 L779.3,738.5 L779.9,738.9 L780.5,739.3 L781.0,739.7 L781.6,740.1 L782.2,740.5 L782.7,740.9 L783.3,741.3 L783.9,741.7 L784.4,742.1 L785.0,742.5 L785.6,742.9 L786.1,743.4 L786.7,743.8 L787.2,744.2 L787.8,744.6 L788.3,745.0 L788.9,745.5 L789.4,745.9 L790.0,746.3 L790.5,746.8 L791.1,747.2 L791.6,747.6 L792.2,748.1 L792.7,748.5 L793.3,749.0 L793.8,749.4 L794.3,749.8 L794.9,750.3 L795.4,750.7 L795.9,751.2 L796.5,751.6 L797.0,752.1 L797.5,752.5 L798.1,753.0 L798.6,753.4 L799.1,753.9 L799.7,754.3 L800.2,754.8 L800.7,755.2 L801.3,755.7 L801.8,756.1 L802.3,756.6 L802.8,757.0 L803.4,757.5 L803.9,758.0 L804.4,758.4 L805.0,758.9 L805.5,759.3 L806.0,759.8 L806.5,760.2 L807.1,760.7 L807.6,761.2 L808.1,761.6 L808.7,762.1 L809.2,762.5 L685.0,866.0 L684.6,865.4 L684.3,864.8 L683.9,864.2 L683.5,863.6 L683.2,863.0 L682.8,862.4 L682.4,861.8 L682.1,861.2 L681.7,860.6 L681.3,860.1 L681.0,859.5 L680.6,858.9 L680.2,858.3 L679.9,857.7 L679.5,857.1 L679.1,856.5 L678.7,855.9 L678.4,855.3 L678.0,854.7 L677.6,854.1 L677.3,853.5 L676.9,852.9 L676.6,852.3 L676.2,851.7 L675.8,851.1 L675.5,850.5 L675.1,849.9 L674.7,849.3 L674.4,848.7 L674.0,848.1 L673.7,847.5 L673.3,846.9 L673.0,846.3 L672.6,845.7 L672.3,845.1 L671.9,844.5 L671.6,843.9 L671.2,843.3 L670.9,842.7 L670.5,842.1 L670.2,841.5 L669.9,840.9 L669.5,840.3 L669.2,839.6 L668.9,839.0 L668.5,838.4 L668.2,837.8 L667.9,837.2 L667.6,836.5 L667.3,835.9 L667.0,835.3 L666.7,834.7 L666.3,834.0 L666.0,833.4 L665.7,832.8 L665.5,832.1 L665.2,831.5 L664.9,830.9 L664.6,830.2 L664.3,829.6 L664.0,829.0 L663.7,828.3 L663.4,827.7 L663.2,827.0 L662.9,826.4 L662.6,825.8 L662.3,825.1 L662.1,824.5 L661.8,823.8 L661.5,823.2 L661.3,822.5 L661.0,821.9 L660.8,821.2 L660.5,820.6 L660.2,819.9 L660.0,819.3 L659.7,818.6 L659.5,818.0 L659.2,817.3 L659.0,816.7 L658.8,816.0 L658.5,815.4 L658.3,814.7 L658.0,814.0 L657.8,813.4 L657.6,812.7 L657.3,812.1 L657.1,811.4 L656.9,810.8 L656.7,810.1 L656.4,809.4 L656.2,808.8 L656.0,808.1 L655.8,807.4 L655.6,806.8 L655.4,806.1 L655.2,805.4 L654.9,804.8 L654.7,804.1 L654.5,803.4 L654.3,802.8 L654.1,802.1 L653.9,801.4 L653.7,800.8 L653.5,800.1 L653.3,799.4 L653.1,798.7 L652.9,798.1 L652.8,797.4 L652.6,796.7 L652.4,796.1 L652.2,795.4 L652.0,794.7 L651.8,794.0 L651.6,793.4 L651.5,792.7 L651.3,792.0 L651.1,791.3 L650.9,790.7 L650.7,790.0 L650.6,789.3 L650.4,788.6 L650.2,788.0 L650.1,787.3 L649.9,786.6 L649.7,785.9 L649.6,785.2 L649.4,784.6 L649.3,783.9 L649.1,783.2 L648.9,782.5 L648.8,781.8 L648.6,781.2 L648.5,780.5 L648.4,779.8 L648.2,779.1 L648.1,778.4 L647.9,777.7 L647.8,777.0 L647.7,776.4 L647.6,775.7 L647.4,775.0 L647.3,774.3 L647.2,773.6 L647.1,772.9 L647.0,772.2 L646.9,771.5 L646.8,770.8 L646.7,770.2 L646.6,769.5 L646.5,768.8 L646.4,768.1 L646.3,767.4 L646.3,766.7 L646.2,766.0 L646.2,765.3 L646.1,764.6 L646.1,763.9 L646.0,763.2 L646.0,762.5 L646.0,761.8 L645.9,761.1 L645.9,760.4 L645.9,759.7 L645.9,759.0 L645.9,758.3 L645.9,757.6 L645.9,756.9 L645.9,756.2 L646.0,755.5 L646.0,754.8 L646.0,754.1 L646.0,753.4 L646.0,752.7 L646.1,752.0 L646.1,751.3 L646.1,750.6 L646.2,749.9 L646.2,749.2 L646.2,748.5 L646.3,747.8 L646.3,747.1 L646.4,746.4 L646.4,745.8 L646.5,745.1 L646.5,744.4 L646.6,743.7 L646.6,743.0 L646.7,742.3 L646.7,741.6 L646.8,740.9 L646.8,740.2 L646.9,739.5 L646.9,738.8 L647.0,738.1 L647.0,737.4 L647.1,736.7 L647.1,736.0 L647.2,735.3 L647.2,734.6 Z" stroke="#222" stroke-width="1.1" fill="#fff" />
<line x1="688.2" y1="701.5" x2="688.0" y2="703.0" stroke="#222" stroke-width="1.05"/>
<line x1="691.6" y1="702.0" x2="691.1" y2="704.1" stroke="#222" stroke-width="1.05"/>
<line x1="701.3" y1="703.4" x2="699.7" y2="707.3" stroke="#222" stroke-width="1.05"/>
<line x1="704.7" y1="704.0" x2="702.7" y2="708.4" stroke="#222" stroke-width="1.05"/>
<line x1="713.6" y1="705.8" x2="710.7" y2="711.4" stroke="#222" stroke-width="1.05"/>
<line x1="717.0" y1="706.6" x2="713.7" y2="712.6" stroke="#222" stroke-width="1.05"/>
<line x1="725.7" y1="709.2" x2="721.5" y2="716.0" stroke="#222" stroke-width="1.05"/>
<line x1="729.0" y1="710.2" x2="724.4" y2="717.3" stroke="#222" stroke-width="1.05"/>
<line x1="737.5" y1="713.4" x2="731.9" y2="721.3" stroke="#222" stroke-width="1.05"/>
<line x1="740.7" y1="714.8" x2="734.7" y2="723.0" stroke="#222" stroke-width="1.05"/>
<line x1="748.8" y1="718.9" x2="741.8" y2="727.7" stroke="#222" stroke-width="1.05"/>
<line x1="751.9" y1="720.5" x2="744.4" y2="729.6" stroke="#222" stroke-width="1.05"/>
<line x1="760.2" y1="725.6" x2="751.7" y2="735.2" stroke="#222" stroke-width="1.05"/>
<line x1="763.2" y1="727.5" x2="754.2" y2="737.2" stroke="#222" stroke-width="1.05"/>
<line x1="770.7" y1="732.5" x2="760.8" y2="742.7" stroke="#222" stroke-width="1.05"/>
<line x1="773.6" y1="734.5" x2="763.2" y2="744.8" stroke="#222" stroke-width="1.05"/>
<line x1="781.0" y1="739.7" x2="769.6" y2="750.4" stroke="#222" stroke-width="1.05"/>
<line x1="783.9" y1="741.7" x2="771.9" y2="752.7" stroke="#222" stroke-width="1.05"/>
<line x1="791.1" y1="747.2" x2="777.9" y2="758.7" stroke="#222" stroke-width="1.05"/>
<line x1="793.8" y1="749.4" x2="780.2" y2="761.1" stroke="#222" stroke-width="1.05"/>
<line x1="800.7" y1="755.2" x2="785.9" y2="767.3" stroke="#222" stroke-width="1.05"/>
<line x1="803.4" y1="757.5" x2="788.1" y2="769.7" stroke="#222" stroke-width="1.05"/>
<line x1="688.0" y1="703.0" x2="677.0" y2="712.8" stroke="#222" stroke-width="1.05"/>
<line x1="691.1" y1="704.1" x2="679.5" y2="714.7" stroke="#222" stroke-width="1.05"/>
<line x1="699.7" y1="707.3" x2="686.5" y2="720.0" stroke="#222" stroke-width="1.05"/>
<line x1="702.7" y1="708.4" x2="689.0" y2="721.9" stroke="#222" stroke-width="1.05"/>
<line x1="710.7" y1="711.4" x2="695.5" y2="726.9" stroke="#222" stroke-width="1.05"/>
<line x1="713.7" y1="712.6" x2="698.0" y2="728.8" stroke="#222" stroke-width="1.05"/>
<line x1="721.5" y1="716.0" x2="704.4" y2="733.8" stroke="#222" stroke-width="1.05"/>
<line x1="724.4" y1="717.3" x2="706.9" y2="735.8" stroke="#222" stroke-width="1.05"/>
<line x1="731.9" y1="721.3" x2="713.2" y2="741.0" stroke="#222" stroke-width="1.05"/>
<line x1="734.7" y1="723.0" x2="715.6" y2="743.1" stroke="#222" stroke-width="1.05"/>
<line x1="741.8" y1="727.7" x2="721.6" y2="748.6" stroke="#222" stroke-width="1.05"/>
<line x1="744.4" y1="729.6" x2="723.9" y2="750.7" stroke="#222" stroke-width="1.05"/>
<line x1="751.7" y1="735.2" x2="730.3" y2="756.8" stroke="#222" stroke-width="1.05"/>
<line x1="754.2" y1="737.2" x2="732.6" y2="759.0" stroke="#222" stroke-width="1.05"/>
<line x1="760.8" y1="742.7" x2="738.4" y2="764.7" stroke="#222" stroke-width="1.05"/>
<line x1="763.2" y1="744.8" x2="740.7" y2="766.9" stroke="#222" stroke-width="1.05"/>
<line x1="769.6" y1="750.4" x2="746.5" y2="772.6" stroke="#222" stroke-width="1.05"/>
<line x1="771.9" y1="752.7" x2="748.8" y2="774.8" stroke="#222" stroke-width="1.05"/>
<line x1="777.9" y1="758.7" x2="754.5" y2="780.6" stroke="#222" stroke-width="1.05"/>
<line x1="780.2" y1="761.1" x2="756.8" y2="782.8" stroke="#222" stroke-width="1.05"/>
<line x1="785.9" y1="767.3" x2="762.5" y2="788.7" stroke="#222" stroke-width="1.05"/>
<line x1="788.1" y1="769.7" x2="764.7" y2="790.9" stroke="#222" stroke-width="1.05"/>
<line x1="677.0" y1="712.8" x2="667.8" y2="721.2" stroke="#222" stroke-width="1.05"/>
<line x1="679.5" y1="714.7" x2="669.7" y2="723.6" stroke="#222" stroke-width="1.05"/>
<line x1="686.5" y1="720.0" x2="675.1" y2="730.4" stroke="#222" stroke-width="1.05"/>
<line x1="689.0" y1="721.9" x2="677.0" y2="732.9" stroke="#222" stroke-width="1.05"/>
<line x1="695.5" y1="726.9" x2="682.0" y2="739.2" stroke="#222" stroke-width="1.05"/>
<line x1="698.0" y1="728.8" x2="683.9" y2="741.7" stroke="#222" stroke-width="1.05"/>
<line x1="704.4" y1="733.8" x2="688.9" y2="748.0" stroke="#222" stroke-width="1.05"/>
<line x1="706.9" y1="735.8" x2="690.9" y2="750.4" stroke="#222" stroke-width="1.05"/>
<line x1="713.2" y1="741.0" x2="695.9" y2="756.8" stroke="#222" stroke-width="1.05"/>
<line x1="715.6" y1="743.1" x2="697.8" y2="759.2" stroke="#222" stroke-width="1.05"/>
<line x1="721.6" y1="748.6" x2="702.6" y2="765.7" stroke="#222" stroke-width="1.05"/>
<line x1="723.9" y1="750.7" x2="704.5" y2="768.1" stroke="#222" stroke-width="1.05"/>
<line x1="730.3" y1="756.8" x2="709.8" y2="775.0" stroke="#222" stroke-width="1.05"/>
<line x1="732.6" y1="759.0" x2="711.7" y2="777.5" stroke="#222" stroke-width="1.05"/>
<line x1="738.4" y1="764.7" x2="716.8" y2="783.8" stroke="#222" stroke-width="1.05"/>
<line x1="740.7" y1="766.9" x2="718.8" y2="786.1" stroke="#222" stroke-width="1.05"/>
<line x1="746.5" y1="772.6" x2="724.3" y2="792.1" stroke="#222" stroke-width="1.05"/>
<line x1="748.8" y1="774.8" x2="726.5" y2="794.3" stroke="#222" stroke-width="1.05"/>
<line x1="754.5" y1="780.6" x2="732.3" y2="799.9" stroke="#222" stroke-width="1.05"/>
<line x1="756.8" y1="782.8" x2="734.6" y2="802.0" stroke="#222" stroke-width="1.05"/>
<line x1="762.5" y1="788.7" x2="740.6" y2="807.4" stroke="#222" stroke-width="1.05"/>
<line x1="764.7" y1="790.9" x2="742.9" y2="809.4" stroke="#222" stroke-width="1.05"/>
<line x1="667.8" y1="721.2" x2="658.6" y2="728.5" stroke="#222" stroke-width="1.05"/>
<line x1="669.7" y1="723.6" x2="660.1" y2="731.3" stroke="#222" stroke-width="1.05"/>
<line x1="675.1" y1="730.4" x2="664.3" y2="739.0" stroke="#222" stroke-width="1.05"/>
<line x1="677.0" y1="732.9" x2="665.7" y2="741.8" stroke="#222" stroke-width="1.05"/>
<line x1="682.0" y1="739.2" x2="669.6" y2="749.0" stroke="#222" stroke-width="1.05"/>
<line x1="683.9" y1="741.7" x2="671.1" y2="751.7" stroke="#222" stroke-width="1.05"/>
<line x1="688.9" y1="748.0" x2="675.1" y2="758.9" stroke="#222" stroke-width="1.05"/>
<line x1="690.9" y1="750.4" x2="676.6" y2="761.6" stroke="#222" stroke-width="1.05"/>
<line x1="695.9" y1="756.8" x2="680.6" y2="768.7" stroke="#222" stroke-width="1.05"/>
<line x1="697.8" y1="759.2" x2="682.1" y2="771.5" stroke="#222" stroke-width="1.05"/>
<line x1="702.6" y1="765.7" x2="686.1" y2="778.6" stroke="#222" stroke-width="1.05"/>
<line x1="704.5" y1="768.1" x2="687.6" y2="781.3" stroke="#222" stroke-width="1.05"/>
<line x1="709.8" y1="775.0" x2="692.0" y2="789.0" stroke="#222" stroke-width="1.05"/>
<line x1="711.7" y1="777.5" x2="693.6" y2="791.7" stroke="#222" stroke-width="1.05"/>
<line x1="716.8" y1="783.8" x2="698.0" y2="798.6" stroke="#222" stroke-width="1.05"/>
<line x1="718.8" y1="786.1" x2="699.7" y2="801.2" stroke="#222" stroke-width="1.05"/>
<line x1="724.3" y1="792.1" x2="704.6" y2="807.7" stroke="#222" stroke-width="1.05"/>
<line x1="726.5" y1="794.3" x2="706.6" y2="810.1" stroke="#222" stroke-width="1.05"/>
<line x1="732.3" y1="799.9" x2="711.9" y2="816.3" stroke="#222" stroke-width="1.05"/>
<line x1="734.6" y1="802.0" x2="714.0" y2="818.6" stroke="#222" stroke-width="1.05"/>
<line x1="740.6" y1="807.4" x2="719.6" y2="824.6" stroke="#222" stroke-width="1.05"/>
<line x1="742.9" y1="809.4" x2="721.7" y2="826.9" stroke="#222" stroke-width="1.05"/>
<line x1="658.6" y1="728.5" x2="650.4" y2="733.9" stroke="#222" stroke-width="1.05"/>
<line x1="660.1" y1="731.3" x2="651.3" y2="737.0" stroke="#222" stroke-width="1.05"/>
<line x1="664.3" y1="739.0" x2="653.8" y2="745.6" stroke="#222" stroke-width="1.05"/>
<line x1="665.7" y1="741.8" x2="654.7" y2="748.7" stroke="#222" stroke-width="1.05"/>
<line x1="669.6" y1="749.0" x2="657.1" y2="756.7" stroke="#222" stroke-width="1.05"/>
<line x1="671.1" y1="751.7" x2="658.0" y2="759.8" stroke="#222" stroke-width="1.05"/>
<line x1="675.1" y1="758.9" x2="660.7" y2="767.7" stroke="#222" stroke-width="1.05"/>
<line x1="676.6" y1="761.6" x2="661.8" y2="770.7" stroke="#222" stroke-width="1.05"/>
<line x1="680.6" y1="768.7" x2="664.9" y2="778.4" stroke="#222" stroke-width="1.05"/>
<line x1="682.1" y1="771.5" x2="666.2" y2="781.4" stroke="#222" stroke-width="1.05"/>
<line x1="686.1" y1="778.6" x2="669.5" y2="789.0" stroke="#222" stroke-width="1.05"/>
<line x1="687.6" y1="781.3" x2="670.8" y2="792.0" stroke="#222" stroke-width="1.05"/>
<line x1="692.0" y1="789.0" x2="674.5" y2="800.1" stroke="#222" stroke-width="1.05"/>
<line x1="693.6" y1="791.7" x2="675.9" y2="803.0" stroke="#222" stroke-width="1.05"/>
<line x1="698.0" y1="798.6" x2="679.6" y2="810.5" stroke="#222" stroke-width="1.05"/>
<line x1="699.7" y1="801.2" x2="681.0" y2="813.4" stroke="#222" stroke-width="1.05"/>
<line x1="704.6" y1="807.7" x2="684.9" y2="820.8" stroke="#222" stroke-width="1.05"/>
<line x1="706.6" y1="810.1" x2="686.4" y2="823.6" stroke="#222" stroke-width="1.05"/>
<line x1="711.9" y1="816.3" x2="690.4" y2="830.9" stroke="#222" stroke-width="1.05"/>
<line x1="714.0" y1="818.6" x2="691.9" y2="833.7" stroke="#222" stroke-width="1.05"/>
<line x1="719.6" y1="824.6" x2="696.0" y2="841.0" stroke="#222" stroke-width="1.05"/>
<line x1="721.7" y1="826.9" x2="697.6" y2="843.8" stroke="#222" stroke-width="1.05"/>
<line x1="650.4" y1="733.9" x2="647.1" y2="736.0" stroke="#222" stroke-width="1.05"/>
<line x1="651.3" y1="737.0" x2="646.9" y2="739.5" stroke="#222" stroke-width="1.05"/>
<line x1="653.8" y1="745.6" x2="646.2" y2="749.2" stroke="#222" stroke-width="1.05"/>
<line x1="654.7" y1="748.7" x2="646.0" y2="752.7" stroke="#222" stroke-width="1.05"/>
<line x1="657.1" y1="756.7" x2="646.0" y2="761.8" stroke="#222" stroke-width="1.05"/>
<line x1="658.0" y1="759.8" x2="646.2" y2="765.3" stroke="#222" stroke-width="1.05"/>
<line x1="660.7" y1="767.7" x2="647.3" y2="774.3" stroke="#222" stroke-width="1.05"/>
<line x1="661.8" y1="770.7" x2="647.9" y2="777.7" stroke="#222" stroke-width="1.05"/>
<line x1="664.9" y1="778.4" x2="649.9" y2="786.6" stroke="#222" stroke-width="1.05"/>
<line x1="666.2" y1="781.4" x2="650.7" y2="790.0" stroke="#222" stroke-width="1.05"/>
<line x1="669.5" y1="789.0" x2="653.1" y2="798.7" stroke="#222" stroke-width="1.05"/>
<line x1="670.8" y1="792.0" x2="654.1" y2="802.1" stroke="#222" stroke-width="1.05"/>
<line x1="674.5" y1="800.1" x2="657.1" y2="811.4" stroke="#222" stroke-width="1.05"/>
<line x1="675.9" y1="803.0" x2="658.3" y2="814.7" stroke="#222" stroke-width="1.05"/>
<line x1="679.6" y1="810.5" x2="661.5" y2="823.2" stroke="#222" stroke-width="1.05"/>
<line x1="681.0" y1="813.4" x2="662.9" y2="826.4" stroke="#222" stroke-width="1.05"/>
<line x1="684.9" y1="820.8" x2="666.7" y2="834.7" stroke="#222" stroke-width="1.05"/>
<line x1="686.4" y1="823.6" x2="668.2" y2="837.8" stroke="#222" stroke-width="1.05"/>
<line x1="690.4" y1="830.9" x2="672.6" y2="845.7" stroke="#222" stroke-width="1.05"/>
<line x1="691.9" y1="833.7" x2="674.4" y2="848.7" stroke="#222" stroke-width="1.05"/>
<line x1="696.0" y1="841.0" x2="679.1" y2="856.5" stroke="#222" stroke-width="1.05"/>
<line x1="697.6" y1="843.8" x2="681.0" y2="859.5" stroke="#222" stroke-width="1.05"/>
<path d="M686.8,702.5 L689.8,703.7 L692.9,704.8 L696.0,705.9 L699.0,707.0 L702.1,708.2 L705.2,709.3 L708.2,710.5 L711.3,711.6 L714.3,712.9 L717.3,714.1 L720.3,715.4 L723.3,716.8 L726.2,718.2 L729.1,719.7 L731.9,721.3 L734.7,723.0 L737.5,724.8 L740.2,726.6 L742.9,728.5 L745.5,730.4 L748.1,732.4 L750.7,734.4 L753.2,736.4 L755.8,738.5 L758.3,740.6 L760.8,742.7 L763.2,744.8 L765.7,746.9 L768.1,749.1 L770.5,751.3 L772.9,753.6 L775.2,755.9 L777.5,758.3 L779.7,760.6 L781.9,763.0 L784.2,765.4 L786.4,767.8 L788.6,770.2 L790.8,772.6 L793.0,775.0" stroke="#222" stroke-width="5.6" fill="none" stroke-linecap="butt"/>
<path d="M686.8,702.5 L689.8,703.7 L692.9,704.8 L696.0,705.9 L699.0,707.0 L702.1,708.2 L705.2,709.3 L708.2,710.5 L711.3,711.6 L714.3,712.9 L717.3,714.1 L720.3,715.4 L723.3,716.8 L726.2,718.2 L729.1,719.7 L731.9,721.3 L734.7,723.0 L737.5,724.8 L740.2,726.6 L742.9,728.5 L745.5,730.4 L748.1,732.4 L750.7,734.4 L753.2,736.4 L755.8,738.5 L758.3,740.6 L760.8,742.7 L763.2,744.8 L765.7,746.9 L768.1,749.1 L770.5,751.3 L772.9,753.6 L775.2,755.9 L777.5,758.3 L779.7,760.6 L781.9,763.0 L784.2,765.4 L786.4,767.8 L788.6,770.2 L790.8,772.6 L793.0,775.0" stroke="#fff" stroke-width="3.4" fill="none" stroke-linecap="butt"/>
<path d="M676.0,712.0 L678.5,713.9 L681.0,715.8 L683.5,717.7 L686.0,719.6 L688.5,721.5 L691.0,723.4 L693.5,725.3 L696.0,727.2 L698.5,729.2 L701.0,731.1 L703.5,733.1 L705.9,735.0 L708.4,737.0 L710.8,739.0 L713.2,741.0 L715.6,743.1 L717.9,745.2 L720.3,747.3 L722.6,749.4 L724.9,751.6 L727.1,753.7 L729.4,755.9 L731.7,758.1 L733.9,760.3 L736.2,762.5 L738.4,764.7 L740.7,766.9 L742.9,769.1 L745.2,771.3 L747.4,773.5 L749.6,775.7 L751.9,777.9 L754.1,780.2 L756.3,782.4 L758.5,784.6 L760.7,786.9 L763.0,789.1 L765.2,791.3 L767.4,793.6 L769.6,795.8" stroke="#222" stroke-width="5.6" fill="none" stroke-linecap="butt"/>
<path d="M676.0,712.0 L678.5,713.9 L681.0,715.8 L683.5,717.7 L686.0,719.6 L688.5,721.5 L691.0,723.4 L693.5,725.3 L696.0,727.2 L698.5,729.2 L701.0,731.1 L703.5,733.1 L705.9,735.0 L708.4,737.0 L710.8,739.0 L713.2,741.0 L715.6,743.1 L717.9,745.2 L720.3,747.3 L722.6,749.4 L724.9,751.6 L727.1,753.7 L729.4,755.9 L731.7,758.1 L733.9,760.3 L736.2,762.5 L738.4,764.7 L740.7,766.9 L742.9,769.1 L745.2,771.3 L747.4,773.5 L749.6,775.7 L751.9,777.9 L754.1,780.2 L756.3,782.4 L758.5,784.6 L760.7,786.9 L763.0,789.1 L765.2,791.3 L767.4,793.6 L769.6,795.8" stroke="#fff" stroke-width="3.4" fill="none" stroke-linecap="butt"/>
<path d="M667.0,720.2 L668.9,722.6 L670.8,725.1 L672.8,727.5 L674.7,730.0 L676.6,732.4 L678.5,734.8 L680.5,737.3 L682.4,739.7 L684.3,742.1 L686.2,744.6 L688.2,747.0 L690.1,749.5 L692.0,751.9 L693.9,754.3 L695.9,756.8 L697.8,759.2 L699.6,761.7 L701.5,764.2 L703.4,766.7 L705.3,769.1 L707.2,771.6 L709.0,774.1 L711.0,776.5 L712.9,779.0 L714.8,781.4 L716.8,783.8 L718.8,786.1 L720.9,788.5 L723.0,790.7 L725.2,793.0 L727.4,795.2 L729.6,797.3 L731.8,799.4 L734.1,801.6 L736.4,803.6 L738.7,805.7 L741.1,807.8 L743.4,809.8 L745.7,811.9 L748.0,814.0" stroke="#222" stroke-width="5.6" fill="none" stroke-linecap="butt"/>
<path d="M667.0,720.2 L668.9,722.6 L670.8,725.1 L672.8,727.5 L674.7,730.0 L676.6,732.4 L678.5,734.8 L680.5,737.3 L682.4,739.7 L684.3,742.1 L686.2,744.6 L688.2,747.0 L690.1,749.5 L692.0,751.9 L693.9,754.3 L695.9,756.8 L697.8,759.2 L699.6,761.7 L701.5,764.2 L703.4,766.7 L705.3,769.1 L707.2,771.6 L709.0,774.1 L711.0,776.5 L712.9,779.0 L714.8,781.4 L716.8,783.8 L718.8,786.1 L720.9,788.5 L723.0,790.7 L725.2,793.0 L727.4,795.2 L729.6,797.3 L731.8,799.4 L734.1,801.6 L736.4,803.6 L738.7,805.7 L741.1,807.8 L743.4,809.8 L745.7,811.9 L748.0,814.0" stroke="#fff" stroke-width="3.4" fill="none" stroke-linecap="butt"/>
<path d="M658.0,727.4 L659.5,730.2 L661.0,732.9 L662.5,735.7 L664.0,738.5 L665.4,741.2 L666.9,744.0 L668.4,746.7 L669.9,749.5 L671.4,752.3 L672.9,755.0 L674.4,757.8 L676.0,760.5 L677.5,763.3 L679.0,766.0 L680.6,768.7 L682.1,771.5 L683.6,774.2 L685.2,777.0 L686.7,779.7 L688.2,782.4 L689.8,785.2 L691.4,787.9 L692.9,790.6 L694.6,793.3 L696.2,795.9 L698.0,798.6 L699.7,801.2 L701.5,803.7 L703.4,806.2 L705.4,808.7 L707.4,811.1 L709.4,813.5 L711.5,815.8 L713.6,818.2 L715.7,820.5 L717.9,822.8 L720.0,825.1 L722.1,827.4 L724.3,829.7 L726.4,832.0" stroke="#222" stroke-width="5.6" fill="none" stroke-linecap="butt"/>
<path d="M658.0,727.4 L659.5,730.2 L661.0,732.9 L662.5,735.7 L664.0,738.5 L665.4,741.2 L666.9,744.0 L668.4,746.7 L669.9,749.5 L671.4,752.3 L672.9,755.0 L674.4,757.8 L676.0,760.5 L677.5,763.3 L679.0,766.0 L680.6,768.7 L682.1,771.5 L683.6,774.2 L685.2,777.0 L686.7,779.7 L688.2,782.4 L689.8,785.2 L691.4,787.9 L692.9,790.6 L694.6,793.3 L696.2,795.9 L698.0,798.6 L699.7,801.2 L701.5,803.7 L703.4,806.2 L705.4,808.7 L707.4,811.1 L709.4,813.5 L711.5,815.8 L713.6,818.2 L715.7,820.5 L717.9,822.8 L720.0,825.1 L722.1,827.4 L724.3,829.7 L726.4,832.0" stroke="#fff" stroke-width="3.4" fill="none" stroke-linecap="butt"/>
<path d="M650.0,732.7 L650.9,735.8 L651.8,738.9 L652.7,741.9 L653.6,745.0 L654.5,748.1 L655.4,751.2 L656.3,754.3 L657.3,757.3 L658.2,760.4 L659.2,763.4 L660.3,766.5 L661.4,769.5 L662.5,772.5 L663.7,775.5 L664.9,778.4 L666.2,781.4 L667.4,784.3 L668.7,787.3 L670.0,790.2 L671.3,793.1 L672.6,796.1 L674.0,799.0 L675.4,801.9 L676.8,804.8 L678.2,807.6 L679.6,810.5 L681.0,813.4 L682.5,816.2 L684.0,819.1 L685.5,821.9 L687.0,824.7 L688.5,827.6 L690.1,830.4 L691.6,833.2 L693.2,836.0 L694.7,838.8 L696.3,841.6 L697.9,844.4 L699.4,847.2 L701.0,850.0" stroke="#222" stroke-width="5.6" fill="none" stroke-linecap="butt"/>
<path d="M650.0,732.7 L650.9,735.8 L651.8,738.9 L652.7,741.9 L653.6,745.0 L654.5,748.1 L655.4,751.2 L656.3,754.3 L657.3,757.3 L658.2,760.4 L659.2,763.4 L660.3,766.5 L661.4,769.5 L662.5,772.5 L663.7,775.5 L664.9,778.4 L666.2,781.4 L667.4,784.3 L668.7,787.3 L670.0,790.2 L671.3,793.1 L672.6,796.1 L674.0,799.0 L675.4,801.9 L676.8,804.8 L678.2,807.6 L679.6,810.5 L681.0,813.4 L682.5,816.2 L684.0,819.1 L685.5,821.9 L687.0,824.7 L688.5,827.6 L690.1,830.4 L691.6,833.2 L693.2,836.0 L694.7,838.8 L696.3,841.6 L697.9,844.4 L699.4,847.2 L701.0,850.0" stroke="#fff" stroke-width="3.4" fill="none" stroke-linecap="butt"/>
<path d="M686.8,701.3 L687.5,701.4 L688.2,701.5 L688.9,701.6 L689.6,701.7 L690.2,701.8 L690.9,701.9 L691.6,702.0 L692.3,702.1 L693.0,702.2 L693.7,702.3 L694.4,702.4 L695.1,702.5 L695.8,702.6 L696.5,702.7 L697.2,702.8 L697.8,702.9 L698.5,703.0 L699.2,703.1 L699.9,703.2 L700.6,703.3 L701.3,703.4 L702.0,703.6 L702.7,703.7 L703.4,703.8 L704.0,703.9 L704.7,704.0 L705.4,704.1 L706.1,704.2 L706.8,704.4 L707.5,704.5 L708.2,704.6 L708.9,704.7 L709.5,704.9 L710.2,705.0 L710.9,705.2 L711.6,705.3 L712.3,705.4 L712.9,705.6 L713.6,705.8 L714.3,705.9 L715.0,706.1 L715.7,706.2 L716.3,706.4 L717.0,706.6 L717.7,706.8 L718.4,707.0 L719.0,707.2 L719.7,707.4 L720.4,707.5 L721.0,707.7 L721.7,707.9 L722.4,708.1 L723.0,708.3 L723.7,708.5 L724.4,708.7 L725.0,708.9 L725.7,709.2 L726.4,709.4 L727.0,709.6 L727.7,709.8 L728.4,710.0 L729.0,710.2 L729.7,710.5 L730.3,710.7 L731.0,710.9 L731.7,711.2 L732.3,711.4 L733.0,711.7 L733.6,711.9 L734.3,712.1 L734.9,712.4 L735.6,712.7 L736.2,712.9 L736.9,713.2 L737.5,713.4 L738.1,713.7 L738.8,714.0 L739.4,714.3 L740.1,714.6 L740.7,714.8 L741.3,715.1 L742.0,715.4 L742.6,715.7 L743.2,716.0 L743.9,716.3 L744.5,716.6 L745.1,716.9 L745.7,717.2 L746.4,717.6 L747.0,717.9 L747.6,718.2 L748.2,718.5 L748.8,718.9 L749.4,719.2 L750.1,719.5 L750.7,719.9 L751.3,720.2 L751.9,720.5 L752.5,720.9 L753.1,721.2 L753.7,721.6 L754.3,721.9 L754.9,722.3 L755.5,722.7 L756.1,723.0 L756.7,723.4 L757.3,723.7 L757.9,724.1 L758.5,724.5 L759.1,724.9 L759.7,725.2 L760.2,725.6 L760.8,726.0 L761.4,726.3 L762.0,726.7 L762.6,727.1 L763.2,727.5 L763.8,727.9 L764.4,728.2 L764.9,728.6 L765.5,729.0 L766.1,729.4 L766.7,729.8 L767.3,730.2 L767.8,730.5 L768.4,730.9 L769.0,731.3 L769.6,731.7 L770.2,732.1 L770.7,732.5 L771.3,732.9 L771.9,733.3 L772.5,733.7 L773.0,734.1 L773.6,734.5 L774.2,734.9 L774.8,735.3 L775.3,735.7 L775.9,736.1 L776.5,736.5 L777.0,736.9 L777.6,737.3 L778.2,737.7 L778.8,738.1 L779.3,738.5 L779.9,738.9 L780.5,739.3 L781.0,739.7 L781.6,740.1 L782.2,740.5 L782.7,740.9 L783.3,741.3 L783.9,741.7 L784.4,742.1 L785.0,742.5 L785.6,742.9 L786.1,743.4 L786.7,743.8 L787.2,744.2 L787.8,744.6 L788.3,745.0 L788.9,745.5 L789.4,745.9 L790.0,746.3 L790.5,746.8 L791.1,747.2 L791.6,747.6 L792.2,748.1 L792.7,748.5 L793.3,749.0 L793.8,749.4 L794.3,749.8 L794.9,750.3 L795.4,750.7 L795.9,751.2 L796.5,751.6 L797.0,752.1 L797.5,752.5 L798.1,753.0 L798.6,753.4 L799.1,753.9 L799.7,754.3 L800.2,754.8 L800.7,755.2 L801.3,755.7 L801.8,756.1 L802.3,756.6 L802.8,757.0 L803.4,757.5 L803.9,758.0 L804.4,758.4 L805.0,758.9 L805.5,759.3 L806.0,759.8 L806.5,760.2 L807.1,760.7 L807.6,761.2 L808.1,761.6 L808.7,762.1 L809.2,762.5 L685.0,866.0 L684.6,865.4 L684.3,864.8 L683.9,864.2 L683.5,863.6 L683.2,863.0 L682.8,862.4 L682.4,861.8 L682.1,861.2 L681.7,860.6 L681.3,860.1 L681.0,859.5 L680.6,858.9 L680.2,858.3 L679.9,857.7 L679.5,857.1 L679.1,856.5 L678.7,855.9 L678.4,855.3 L678.0,854.7 L677.6,854.1 L677.3,853.5 L676.9,852.9 L676.6,852.3 L676.2,851.7 L675.8,851.1 L675.5,850.5 L675.1,849.9 L674.7,849.3 L674.4,848.7 L674.0,848.1 L673.7,847.5 L673.3,846.9 L673.0,846.3 L672.6,845.7 L672.3,845.1 L671.9,844.5 L671.6,843.9 L671.2,843.3 L670.9,842.7 L670.5,842.1 L670.2,841.5 L669.9,840.9 L669.5,840.3 L669.2,839.6 L668.9,839.0 L668.5,838.4 L668.2,837.8 L667.9,837.2 L667.6,836.5 L667.3,835.9 L667.0,835.3 L666.7,834.7 L666.3,834.0 L666.0,833.4 L665.7,832.8 L665.5,832.1 L665.2,831.5 L664.9,830.9 L664.6,830.2 L664.3,829.6 L664.0,829.0 L663.7,828.3 L663.4,827.7 L663.2,827.0 L662.9,826.4 L662.6,825.8 L662.3,825.1 L662.1,824.5 L661.8,823.8 L661.5,823.2 L661.3,822.5 L661.0,821.9 L660.8,821.2 L660.5,820.6 L660.2,819.9 L660.0,819.3 L659.7,818.6 L659.5,818.0 L659.2,817.3 L659.0,816.7 L658.8,816.0 L658.5,815.4 L658.3,814.7 L658.0,814.0 L657.8,813.4 L657.6,812.7 L657.3,812.1 L657.1,811.4 L656.9,810.8 L656.7,810.1 L656.4,809.4 L656.2,808.8 L656.0,808.1 L655.8,807.4 L655.6,806.8 L655.4,806.1 L655.2,805.4 L654.9,804.8 L654.7,804.1 L654.5,803.4 L654.3,802.8 L654.1,802.1 L653.9,801.4 L653.7,800.8 L653.5,800.1 L653.3,799.4 L653.1,798.7 L652.9,798.1 L652.8,797.4 L652.6,796.7 L652.4,796.1 L652.2,795.4 L652.0,794.7 L651.8,794.0 L651.6,793.4 L651.5,792.7 L651.3,792.0 L651.1,791.3 L650.9,790.7 L650.7,790.0 L650.6,789.3 L650.4,788.6 L650.2,788.0 L650.1,787.3 L649.9,786.6 L649.7,785.9 L649.6,785.2 L649.4,784.6 L649.3,783.9 L649.1,783.2 L648.9,782.5 L648.8,781.8 L648.6,781.2 L648.5,780.5 L648.4,779.8 L648.2,779.1 L648.1,778.4 L647.9,777.7 L647.8,777.0 L647.7,776.4 L647.6,775.7 L647.4,775.0 L647.3,774.3 L647.2,773.6 L647.1,772.9 L647.0,772.2 L646.9,771.5 L646.8,770.8 L646.7,770.2 L646.6,769.5 L646.5,768.8 L646.4,768.1 L646.3,767.4 L646.3,766.7 L646.2,766.0 L646.2,765.3 L646.1,764.6 L646.1,763.9 L646.0,763.2 L646.0,762.5 L646.0,761.8 L645.9,761.1 L645.9,760.4 L645.9,759.7 L645.9,759.0 L645.9,758.3 L645.9,757.6 L645.9,756.9 L645.9,756.2 L646.0,755.5 L646.0,754.8 L646.0,754.1 L646.0,753.4 L646.0,752.7 L646.1,752.0 L646.1,751.3 L646.1,750.6 L646.2,749.9 L646.2,749.2 L646.2,748.5 L646.3,747.8 L646.3,747.1 L646.4,746.4 L646.4,745.8 L646.5,745.1 L646.5,744.4 L646.6,743.7 L646.6,743.0 L646.7,742.3 L646.7,741.6 L646.8,740.9 L646.8,740.2 L646.9,739.5 L646.9,738.8 L647.0,738.1 L647.0,737.4 L647.1,736.7 L647.1,736.0 L647.2,735.3 L647.2,734.6 Z" stroke="#222" stroke-width="1.15" fill="none" />
<path d="M216.8,640.1 L221.3,634.7 L233.0,643.7 L228.5,650.0 Z" stroke="#222" stroke-width="1.0" fill="#fff" />
<line x1="219.0" y1="637.5" x2="222.0" y2="634.9" stroke="#222" stroke-width="0.8" />
<line x1="220.5" y1="638.7" x2="223.5" y2="636.0" stroke="#222" stroke-width="0.8" />
<line x1="226.6" y1="648.7" x2="230.6" y2="644.3" stroke="#222" stroke-width="0.8" />
<line x1="228.2" y1="649.6" x2="232.0" y2="645.4" stroke="#222" stroke-width="0.8" />
<path d="M176.5,649 L177.5,646.5 C192,646 205,643 216.8,640.1 L228.5,650 L231.7,652.3 C226,660 223.5,672 226.3,681.5 L228.5,688 Z" stroke="#222" stroke-width="1.1" fill="#fff" />
<path d="M606.3,634.2 L612.0,638.4 L602.0,648.9 L596.3,643.6 Z" stroke="#222" stroke-width="1.0" fill="#fff" />
<line x1="604.5" y1="636.0" x2="610.0" y2="640.0" stroke="#222" stroke-width="0.8" />
<line x1="598.0" y1="642.0" x2="603.5" y2="646.5" stroke="#222" stroke-width="0.8" />
<path d="M596.8,652 L614.2,638.4 C625,643 635,646.5 648.8,647.3 L600.5,688.3 C604,680 605,668 596.8,652 Z" stroke="#222" stroke-width="1.1" fill="#fff" />
<path d="M648.8,647.3 L653.5,651.0 L604.2,692.0 L600.5,688.3 Z" stroke="#222" stroke-width="1.1" fill="#fff" />
<defs><pattern id="knurl" width="3" height="3" patternUnits="userSpaceOnUse"><rect width="3" height="3" fill="#8a8a8a"/><path d="M0,0 L3,3 M3,0 L0,3" stroke="#333" stroke-width="0.7"/></pattern></defs>
<path d="M613.6,679.9 L639.4,659.4 L666.7,688.3 L639.4,710.8 Z" stroke="#222" stroke-width="1.0" fill="url(#knurl)" />
<path d="M624.7,672.0 L635.2,665.7 L648.8,689.8 L641.5,694.0 Z" stroke="#222" stroke-width="1.0" fill="#fff" />
<path d="M748.5,860 L793,823" stroke="#222" stroke-width="4.2" stroke-linecap="round" fill="none"/>
<path d="M748.5,860 L793,823" stroke="#fff" stroke-width="1.8" stroke-linecap="round" fill="none"/>
<path d="M753.0,859.5 L791.5,827.5 L795.0,831.5 L756.5,863.5 Z" stroke="#222" stroke-width="1.1" fill="#fff" />
<path d="M753.0,859.5 L756.7,861.6 L756.2,856.8 L759.9,858.9 L759.4,854.2 L763.1,856.2 L762.6,851.5 L766.3,853.6 L765.8,848.8 L769.5,850.9 L769.0,846.2 L772.7,848.2 L772.2,843.5 L776.0,845.6 L775.5,840.8 L779.2,842.9 L778.7,838.2 L782.4,840.2 L781.9,835.5 L785.6,837.6 L785.1,832.8 L788.8,834.9 L788.3,830.2 L792.0,832.2 L791.5,827.5" stroke="#222" stroke-width="0.9" fill="none" />
<path d="M780.3,908.9 C800,908 826,892 837,864.8 C840,856 825,858 817.2,861.2 C810,865 804,870 799.2,873.8" stroke="#222" stroke-width="1.0" fill="none" />
<path d="M810,854.9 L799.2,873.8 L819.9,868.4" stroke="#222" stroke-width="1.0" fill="none" />
<path d="M609,395.6 A47,47 0 1 1 620.8,412.7 L592,434.3 Z" fill="#fff" stroke="#222" stroke-width="1.1"/>
<line x1="642.4" y1="332" x2="638.8" y2="356" stroke="#111" stroke-width="4.2"/>
<line x1="655.0" y1="332.0" x2="652.3" y2="356.0" stroke="#222" stroke-width="2.6" />
<line x1="669.4" y1="336.0" x2="666.7" y2="358.7" stroke="#222" stroke-width="2.2" />
<path d="M683.8,348.8 L676.6,410 M674,398 L676.6,410 L680,399" stroke="#222" stroke-width="1.1" fill="none" />
<text x="633.5" y="372.2" font-family="Liberation Serif" font-size="13.5" text-anchor="start" fill="#1a1a1a" font-weight="bold">L</text>
<text x="661.5" y="375.8" font-family="Liberation Serif" font-size="13.5" text-anchor="start" fill="#1a1a1a" font-weight="bold">N</text>
<rect x="629" y="374" width="11" height="26" transform="rotate(5 629 374)" fill="#fff" stroke="#222" stroke-width="1.1"/>
<ellipse cx="634.5" cy="380" rx="2.5" ry="2" fill="none" stroke="#222" stroke-width="1"/>
<ellipse cx="633.5" cy="393" rx="2.5" ry="2" fill="none" stroke="#222" stroke-width="1"/>
<rect x="644" y="375" width="11" height="26" transform="rotate(5 644 375)" fill="#fff" stroke="#222" stroke-width="1.1"/>
<ellipse cx="649.5" cy="381" rx="2.5" ry="2" fill="none" stroke="#222" stroke-width="1"/>
<ellipse cx="648.5" cy="394" rx="2.5" ry="2" fill="none" stroke="#222" stroke-width="1"/>
<rect x="657.7" y="376.7" width="11" height="26" transform="rotate(5 657.7 376.7)" fill="#fff" stroke="#222" stroke-width="1.1"/>
<ellipse cx="663.2" cy="382.7" rx="2.5" ry="2" fill="none" stroke="#222" stroke-width="1"/>
<ellipse cx="662.2" cy="395.7" rx="2.5" ry="2" fill="none" stroke="#222" stroke-width="1"/>
<line x1="631.6" y1="401" x2="629.8" y2="418" stroke="#111" stroke-width="3"/>
<line x1="646.0" y1="402.0" x2="644.0" y2="423.0" stroke="#222" stroke-width="1.5" />
<line x1="660.0" y1="404.0" x2="658.0" y2="423.0" stroke="#222" stroke-width="1.5" />
<path d="M541.5,438.0 L553.0,432.0 L585.0,438.5 L589.5,442.9 L589.5,447.8 L570.2,461.0 L564.3,461.0 L564.3,451.0 L558.3,454.8 L552.0,454.8 L552.0,444.6 L547.5,447.8 L541.5,447.8 Z" stroke="#222" stroke-width="1.2" fill="#fff" />
<rect x="541.5" y="438" width="6" height="9.8" fill="#fff" stroke="#222" stroke-width="1.2"/>
<ellipse cx="544.5" cy="443" rx="1.8" ry="2.8" fill="none" stroke="#222" stroke-width="1"/>
<rect x="552" y="444.6" width="6" height="9.8" fill="#fff" stroke="#222" stroke-width="1.2"/>
<ellipse cx="555" cy="449.6" rx="1.8" ry="2.8" fill="none" stroke="#222" stroke-width="1"/>
<rect x="564.3" y="451" width="6" height="9.8" fill="#fff" stroke="#222" stroke-width="1.2"/>
<ellipse cx="567.3" cy="456" rx="1.8" ry="2.8" fill="none" stroke="#222" stroke-width="1"/>
<line x1="547.5" y1="438.0" x2="589.5" y2="442.9" stroke="#222" stroke-width="1.1" />
<path d="M553.2,424 L553.2,433 C553.2,435.5 561.8,435.5 561.8,433 L561.8,424 Z" fill="#fff" stroke="#222" stroke-width="1.2"/>
<ellipse cx="557.5" cy="424" rx="4.3" ry="2.3" fill="#fff" stroke="#222" stroke-width="1.3"/>
<path d="M564.5,429.5 L564.5,438.5 C564.5,441.0 573.0999999999999,441.0 573.0999999999999,438.5 L573.0999999999999,429.5 Z" fill="#fff" stroke="#222" stroke-width="1.2"/>
<ellipse cx="568.8" cy="429.5" rx="4.3" ry="2.3" fill="#fff" stroke="#222" stroke-width="1.3"/>
<path d="M546.7,428 L546.7,437 C546.7,439.5 555.3,439.5 555.3,437 L555.3,428 Z" fill="#fff" stroke="#222" stroke-width="1.2"/>
<ellipse cx="551" cy="428" rx="4.3" ry="2.3" fill="#fff" stroke="#222" stroke-width="1.3"/>
<path d="M575.7,437 L575.7,446 C575.7,448.5 584.3,448.5 584.3,446 L584.3,437 Z" fill="#fff" stroke="#222" stroke-width="1.2"/>
<ellipse cx="580" cy="437" rx="4.3" ry="2.3" fill="#fff" stroke="#222" stroke-width="1.3"/>
<path d="M557.5,435 L557.5,444 C557.5,446.5 566.0999999999999,446.5 566.0999999999999,444 L566.0999999999999,435 Z" fill="#fff" stroke="#222" stroke-width="1.2"/>
<ellipse cx="561.8" cy="435" rx="4.3" ry="2.3" fill="#fff" stroke="#222" stroke-width="1.3"/>
<path d="M569.4000000000001,441.6 L569.4000000000001,450.6 C569.4000000000001,453.1 578.0,453.1 578.0,450.6 L578.0,441.6 Z" fill="#fff" stroke="#222" stroke-width="1.2"/>
<ellipse cx="573.7" cy="441.6" rx="4.3" ry="2.3" fill="#fff" stroke="#222" stroke-width="1.3"/>
<circle cx="813" cy="311" r="87" fill="none" stroke="#222" stroke-width="1.1"/>
<path d="M750.4,299 L869.2,299 C876,300 880.4,306 880.4,311 C880.4,317 876,321.4 869.2,321.4 L750.4,321.4 C746,321 742.4,316 742.4,311 C742.4,305 746,300 750.4,299" stroke="#222" stroke-width="1.6" fill="none" />
<rect x="749.6" y="308.2" width="17.6" height="6" rx="3" fill="none" stroke="#222" stroke-width="1.1"/>
<rect x="831.6" y="308.2" width="17.6" height="6" rx="3" fill="none" stroke="#222" stroke-width="1.1"/>
<path d="M772.4,311.0 L775.0,308.0 L789.0,308.0 L791.6,311.0 L789.0,314.2 L775.0,314.2 Z" stroke="#222" stroke-width="1.1" fill="none" />
<path d="M854.8,311.0 L857.5,308.0 L870.5,308.0 L873.2,311.0 L870.5,314.2 L857.5,314.2 Z" stroke="#222" stroke-width="1.1" fill="none" />
<circle cx="811.8" cy="310.8" r="5" fill="none" stroke="#222" stroke-width="1.1"/>
<circle cx="654.5" cy="231" r="4.8" fill="none" stroke="#222" stroke-width="1.3"/>
<line x1="649.0" y1="237.0" x2="660.0" y2="225.0" stroke="#222" stroke-width="1.2" />
<text x="0" y="0" font-family="Liberation Serif" font-size="23.03" fill="#1a1a1a" transform="translate(660.12 239.00) scale(1.098 1)">150</text>
<text x="0" y="0" font-family="Liberation Serif" font-size="20.43" fill="#1a1a1a" transform="translate(698.10 239.00) scale(0.726 1)">mm</text>
<path d="M648,241.4 L722.4,241.4 L736.8,261.4" stroke="#222" stroke-width="1.1" fill="none" />
<text x="0" y="0" font-family="Liberation Serif" font-size="24.55" fill="#1a1a1a" transform="translate(898.58 245.20) scale(1.007 1)">120</text>
<text x="0" y="0" font-family="Liberation Serif" font-size="22.98" fill="#1a1a1a" transform="translate(935.28 244.60) scale(0.692 1)">mm</text>
<path d="M867.2,296.8 L902.6,246.4 L962.6,246.4" stroke="#222" stroke-width="1.1" fill="none" />
<text x="0" y="0" font-family="Liberation Serif" font-size="24.24" fill="#1a1a1a" transform="translate(784.49 287.00) scale(1.038 1)">50</text>
<text x="0" y="0" font-family="Liberation Serif" font-size="18.72" fill="#1a1a1a" transform="translate(810.50 287.00) scale(0.792 1)">mm</text>
<path d="M782,307.8 L782,287.8 L841.2,287.8 L841.2,307.8" stroke="#222" stroke-width="1.1" fill="none" />
<text x="0" y="0" font-family="Liberation Serif" font-size="24.31" fill="#1a1a1a" transform="translate(899.65 291.00) scale(0.928 1)">5</text>
<text x="0" y="0" font-family="Liberation Serif" font-size="21.70" fill="#1a1a1a" transform="translate(910.07 290.80) scale(0.769 1)">mm</text>
<path d="M937.4,292.6 L900.4,292.6 L900.4,319 M874,307.8 L902.8,307.8 M874,313.4 L902.8,313.4" stroke="#222" stroke-width="1.1" fill="none" />
<text x="0" y="0" font-family="Liberation Serif" font-size="24.24" fill="#1a1a1a" transform="translate(694.71 336.60) scale(0.959 1)">18</text>
<text x="0" y="0" font-family="Liberation Serif" font-size="20.43" fill="#1a1a1a" transform="translate(718.08 336.60) scale(0.778 1)">mm</text>
<path d="M696,337.4 L768,337.4 M748.8,311 L748.8,338 M768,311 L768,338" stroke="#222" stroke-width="1.1" fill="none" />
<text x="0" y="0" font-family="Liberation Serif" font-size="23.38" fill="#1a1a1a" transform="translate(853.20 340.60) scale(1.140 1)">17</text>
<text x="0" y="0" font-family="Liberation Serif" font-size="22.13" fill="#1a1a1a" transform="translate(880.10 340.60) scale(0.670 1)">mm</text>
<path d="M830.8,341.4 L902.8,341.4 M830.8,311 L830.8,341.4 M850.8,311 L850.8,341.4" stroke="#222" stroke-width="1.1" fill="none" />
</svg></body></html>
